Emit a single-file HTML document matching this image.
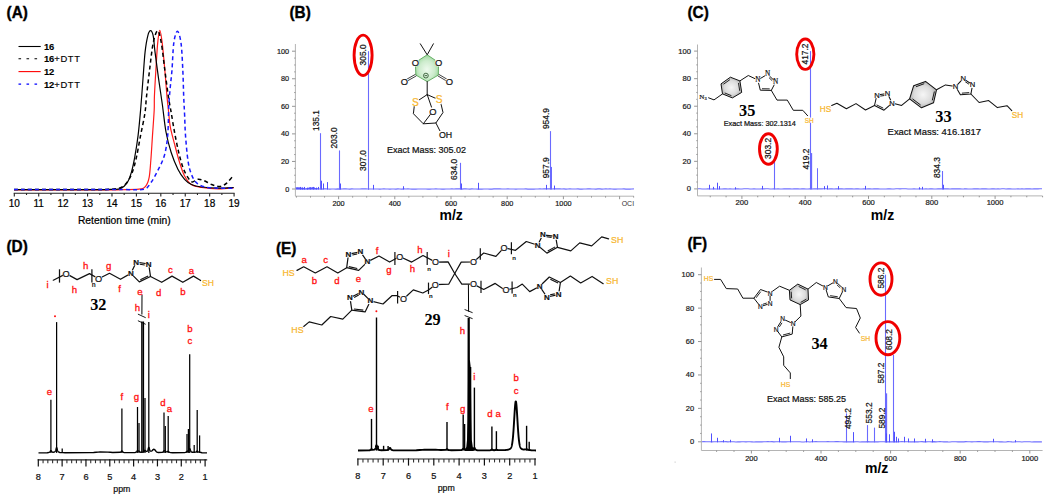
<!DOCTYPE html>
<html><head><meta charset="utf-8"><style>
html,body{margin:0;padding:0;background:#fff;}
svg{display:block;}
</style></head><body>
<svg width="1050" height="502" viewBox="0 0 1050 502">
<rect width="1050" height="502" fill="#fff"/>
<text transform="translate(6.6 17.65) scale(1 1.08)" x="0" y="0" font-size="15.4" font-weight="bold" fill="#000" stroke="#000" stroke-width="0.35" font-family='"Liberation Sans", sans-serif'>(A)</text>
<line x1="18.5" y1="46.5" x2="40.7" y2="46.5" stroke="#000" stroke-width="1.1"/>
<text x="43.9" y="50" font-size="9.4" font-family='"Liberation Sans", sans-serif' fill="#000" stroke="#000" stroke-width="0.15"><tspan font-weight="bold">16</tspan><tspan letter-spacing="0.65"></tspan></text>
<line x1="18.5" y1="58.8" x2="40.7" y2="58.8" stroke="#000" stroke-width="1.1" stroke-dasharray="2.6,5.4"/>
<text x="43.9" y="62.3" font-size="9.4" font-family='"Liberation Sans", sans-serif' fill="#000" stroke="#000" stroke-width="0.15"><tspan font-weight="bold">16</tspan><tspan letter-spacing="0.65">+DTT</tspan></text>
<line x1="18.5" y1="71.6" x2="40.7" y2="71.6" stroke="#ff0000" stroke-width="1.1"/>
<text x="43.9" y="75.1" font-size="9.4" font-family='"Liberation Sans", sans-serif' fill="#000" stroke="#000" stroke-width="0.15"><tspan font-weight="bold">12</tspan><tspan letter-spacing="0.65"></tspan></text>
<line x1="18.5" y1="84.1" x2="40.7" y2="84.1" stroke="#0000ff" stroke-width="1.1" stroke-dasharray="2.6,5.4"/>
<text x="43.9" y="87.6" font-size="9.4" font-family='"Liberation Sans", sans-serif' fill="#000" stroke="#000" stroke-width="0.15"><tspan font-weight="bold">12</tspan><tspan letter-spacing="0.65">+DTT</tspan></text>
<line x1="13.7" y1="193.2" x2="234.6" y2="193.2" stroke="#222" stroke-width="1.1"/>
<line x1="14.3" y1="193.2" x2="14.3" y2="196.6" stroke="#222" stroke-width="1.1"/>
<text x="14.3" y="207" font-size="10" font-weight="normal" fill="#000" text-anchor="middle" font-family='"Liberation Sans", sans-serif' stroke="#000" stroke-width="0.22">10</text>
<line x1="26.51" y1="193.2" x2="26.51" y2="195" stroke="#222" stroke-width="1.1"/>
<line x1="38.72" y1="193.2" x2="38.72" y2="196.6" stroke="#222" stroke-width="1.1"/>
<text x="38.72" y="207" font-size="10" font-weight="normal" fill="#000" text-anchor="middle" font-family='"Liberation Sans", sans-serif' stroke="#000" stroke-width="0.22">11</text>
<line x1="50.93" y1="193.2" x2="50.93" y2="195" stroke="#222" stroke-width="1.1"/>
<line x1="63.14" y1="193.2" x2="63.14" y2="196.6" stroke="#222" stroke-width="1.1"/>
<text x="63.14" y="207" font-size="10" font-weight="normal" fill="#000" text-anchor="middle" font-family='"Liberation Sans", sans-serif' stroke="#000" stroke-width="0.22">12</text>
<line x1="75.35" y1="193.2" x2="75.35" y2="195" stroke="#222" stroke-width="1.1"/>
<line x1="87.56" y1="193.2" x2="87.56" y2="196.6" stroke="#222" stroke-width="1.1"/>
<text x="87.56" y="207" font-size="10" font-weight="normal" fill="#000" text-anchor="middle" font-family='"Liberation Sans", sans-serif' stroke="#000" stroke-width="0.22">13</text>
<line x1="99.77" y1="193.2" x2="99.77" y2="195" stroke="#222" stroke-width="1.1"/>
<line x1="111.98" y1="193.2" x2="111.98" y2="196.6" stroke="#222" stroke-width="1.1"/>
<text x="111.98" y="207" font-size="10" font-weight="normal" fill="#000" text-anchor="middle" font-family='"Liberation Sans", sans-serif' stroke="#000" stroke-width="0.22">14</text>
<line x1="124.19" y1="193.2" x2="124.19" y2="195" stroke="#222" stroke-width="1.1"/>
<line x1="136.4" y1="193.2" x2="136.4" y2="196.6" stroke="#222" stroke-width="1.1"/>
<text x="136.4" y="207" font-size="10" font-weight="normal" fill="#000" text-anchor="middle" font-family='"Liberation Sans", sans-serif' stroke="#000" stroke-width="0.22">15</text>
<line x1="148.61" y1="193.2" x2="148.61" y2="195" stroke="#222" stroke-width="1.1"/>
<line x1="160.82" y1="193.2" x2="160.82" y2="196.6" stroke="#222" stroke-width="1.1"/>
<text x="160.82" y="207" font-size="10" font-weight="normal" fill="#000" text-anchor="middle" font-family='"Liberation Sans", sans-serif' stroke="#000" stroke-width="0.22">16</text>
<line x1="173.03" y1="193.2" x2="173.03" y2="195" stroke="#222" stroke-width="1.1"/>
<line x1="185.24" y1="193.2" x2="185.24" y2="196.6" stroke="#222" stroke-width="1.1"/>
<text x="185.24" y="207" font-size="10" font-weight="normal" fill="#000" text-anchor="middle" font-family='"Liberation Sans", sans-serif' stroke="#000" stroke-width="0.22">17</text>
<line x1="197.45" y1="193.2" x2="197.45" y2="195" stroke="#222" stroke-width="1.1"/>
<line x1="209.66" y1="193.2" x2="209.66" y2="196.6" stroke="#222" stroke-width="1.1"/>
<text x="209.66" y="207" font-size="10" font-weight="normal" fill="#000" text-anchor="middle" font-family='"Liberation Sans", sans-serif' stroke="#000" stroke-width="0.22">18</text>
<line x1="221.87" y1="193.2" x2="221.87" y2="195" stroke="#222" stroke-width="1.1"/>
<line x1="234.08" y1="193.2" x2="234.08" y2="196.6" stroke="#222" stroke-width="1.1"/>
<text x="234.08" y="207" font-size="10" font-weight="normal" fill="#000" text-anchor="middle" font-family='"Liberation Sans", sans-serif' stroke="#000" stroke-width="0.22">19</text>
<text x="124.3" y="224.3" font-size="10.3" font-weight="normal" fill="#000" text-anchor="middle" font-family='"Liberation Sans", sans-serif' stroke="#000" stroke-width="0.22">Retention time (min)</text>
<path d="M14,189.8 C28.33,189.8 82.85,189.8 100,189.8 C117.15,189.8 110.42,189.9 116.9,189.8 C123.38,189.7 134.1,189.8 138.9,189.2 C143.7,188.6 144,188.12 145.7,186.2 C147.4,184.28 148.25,181.93 149.1,177.7 C149.95,173.47 150.23,167.85 150.8,160.8 C151.37,153.75 151.93,143.87 152.5,135.4 C153.07,126.93 153.88,116.45 154.2,110 C154.52,103.55 154.12,103.4 154.4,96.7 C154.68,90 155.35,78.77 155.9,69.8 C156.45,60.83 157.05,49.47 157.7,42.9 C158.35,36.33 159.05,30.4 159.8,30.4 C160.55,30.4 161.37,36.33 162.2,42.9 C163.03,49.47 164,60.83 164.8,69.8 C165.6,78.77 166.4,90 167,96.7 C167.6,103.4 167.85,104.97 168.4,110 C168.95,115.03 169.28,121.25 170.3,126.9 C171.32,132.55 172.95,137.97 174.5,143.9 C176.05,149.83 177.92,157.15 179.6,162.5 C181.28,167.85 182.63,172.33 184.6,176 C186.57,179.67 188.57,182.58 191.4,184.5 C194.23,186.42 197.08,186.77 201.6,187.5 C206.12,188.23 213.15,188.83 218.5,188.9 C223.85,188.97 231.17,188.07 233.7,187.9" fill="none" stroke="#ff1a1a" stroke-width="1.2"/>
<path d="M14,189.6 C21.67,189.6 45.67,189.6 60,189.6 C74.33,189.6 91.33,189.65 100,189.6 C108.67,189.55 108.62,189.47 112,189.3 C115.38,189.13 117.78,189.68 120.3,188.6 C122.82,187.52 125.27,185.47 127.1,182.8 C128.93,180.13 130.03,176.83 131.3,172.6 C132.57,168.37 133.57,163.6 134.7,157.4 C135.83,151.2 137.12,143.3 138.1,135.4 C139.08,127.5 139.78,119.43 140.6,110 C141.42,100.57 142.25,88.48 143,78.8 C143.75,69.12 144.3,59.07 145.1,51.9 C145.9,44.73 146.9,39.33 147.8,35.8 C148.7,32.27 149.6,30.7 150.5,30.7 C151.4,30.7 152.45,32.27 153.2,35.8 C153.95,39.33 154.1,44.73 155,51.9 C155.9,59.07 157.37,69.95 158.6,78.8 C159.83,87.65 161.17,96.13 162.4,105 C163.63,113.87 164.55,124.12 166,132 C167.45,139.88 169.12,146.08 171.1,152.3 C173.08,158.52 175.65,164.78 177.9,169.3 C180.15,173.82 182.35,176.87 184.6,179.4 C186.85,181.93 188.57,183.23 191.4,184.5 C194.23,185.77 197.08,186.38 201.6,187 C206.12,187.62 213.15,188.12 218.5,188.2 C223.85,188.28 231.17,187.62 233.7,187.5" fill="none" stroke="#000" stroke-width="1.2"/>
<path d="M14,189.5 C21.67,189.5 45,189.52 60,189.5 C75,189.48 95,189.48 104,189.4 C113,189.32 111,189.4 114,189 C117,188.6 119.68,188.32 122,187 C124.32,185.68 126.2,183.5 127.9,181.1 C129.6,178.7 130.78,176.55 132.2,172.6 C133.62,168.65 135,163.6 136.4,157.4 C137.8,151.2 139.18,142.73 140.6,135.4 C142.02,128.07 143.92,119.85 144.9,113.4 C145.88,106.95 145.72,103.97 146.5,96.7 C147.28,89.43 148.48,78.77 149.6,69.8 C150.72,60.83 151.85,49.42 153.2,42.9 C154.55,36.38 156.35,30.7 157.7,30.7 C159.05,30.7 160.12,36.38 161.3,42.9 C162.48,49.42 163.62,60.83 164.8,69.8 C165.98,78.77 167.35,89.67 168.4,96.7 C169.45,103.73 170.08,106.12 171.1,112 C172.12,117.88 173.23,125.28 174.5,132 C175.77,138.72 177.28,146.37 178.7,152.3 C180.12,158.23 181.45,163.37 183,167.6 C184.55,171.83 186.45,175.32 188,177.7 C189.55,180.08 190.75,181.62 192.3,181.9 C193.85,182.18 195.47,179.67 197.3,179.4 C199.13,179.13 200.9,179.45 203.3,180.3 C205.7,181.15 208.88,183.47 211.7,184.5 C214.52,185.53 217.65,186.78 220.2,186.5 C222.75,186.22 224.87,184.55 227,182.8 C229.13,181.05 232,177.13 233,176" fill="none" stroke="#000" stroke-width="1.5" stroke-dasharray="4,3"/>
<path d="M14,189.4 C28.33,189.4 81.43,189.37 100,189.4 C118.57,189.43 118.07,189.63 125.4,189.6 C132.73,189.57 139.77,190.33 144,189.2 C148.23,188.07 148.53,185.85 150.8,182.8 C153.07,179.75 155.35,175.42 157.6,170.9 C159.85,166.38 162.62,161.62 164.3,155.7 C165.98,149.78 166.95,143.73 167.7,135.4 C168.45,127.07 168.38,113.63 168.8,105.7 C169.22,97.77 169.67,93.78 170.2,87.8 C170.73,81.82 171.4,77.28 172,69.8 C172.6,62.32 172.9,49.32 173.8,42.9 C174.7,36.48 176.2,31.3 177.4,31.3 C178.6,31.3 180.1,36.48 181,42.9 C181.9,49.32 182.35,60.83 182.8,69.8 C183.25,78.77 183.4,89.22 183.7,96.7 C184,104.18 184.3,108.25 184.6,114.7 C184.9,121.15 184.93,127.72 185.5,135.4 C186.07,143.08 187.02,154.32 188,160.8 C188.98,167.28 189.98,170.63 191.4,174.3 C192.82,177.97 194.23,180.68 196.5,182.8 C198.77,184.92 201.33,186.1 205,187 C208.67,187.9 213.72,188 218.5,188.2 C223.28,188.4 231.17,188.2 233.7,188.2" fill="none" stroke="#1a1aff" stroke-width="1.5" stroke-dasharray="4,3"/>
<text transform="translate(289.4 17.66) scale(1 1.08)" x="0" y="0" font-size="15.4" font-weight="bold" fill="#000" stroke="#000" stroke-width="0.35" font-family='"Liberation Sans", sans-serif'>(B)</text>
<line x1="295.4" y1="44" x2="295.4" y2="196.2" stroke="#b4b4b4" stroke-width="1"/>
<line x1="295.4" y1="196.2" x2="633.9" y2="196.2" stroke="#b4b4b4" stroke-width="1"/>
<line x1="292" y1="189" x2="295.4" y2="189" stroke="#8a8a8a" stroke-width="0.9"/>
<text x="289.2" y="191.5" font-size="7.3" font-weight="normal" fill="#222" text-anchor="end" font-family='"Liberation Sans", sans-serif' stroke="#222" stroke-width="0.22">0</text>
<line x1="294.2" y1="182.11" x2="295.4" y2="182.11" stroke="#8a8a8a" stroke-width="0.9"/>
<line x1="294.2" y1="175.22" x2="295.4" y2="175.22" stroke="#8a8a8a" stroke-width="0.9"/>
<line x1="294.2" y1="168.33" x2="295.4" y2="168.33" stroke="#8a8a8a" stroke-width="0.9"/>
<line x1="292" y1="161.44" x2="295.4" y2="161.44" stroke="#8a8a8a" stroke-width="0.9"/>
<text x="289.2" y="163.94" font-size="7.3" font-weight="normal" fill="#222" text-anchor="end" font-family='"Liberation Sans", sans-serif' stroke="#222" stroke-width="0.22">20</text>
<line x1="294.2" y1="154.55" x2="295.4" y2="154.55" stroke="#8a8a8a" stroke-width="0.9"/>
<line x1="294.2" y1="147.66" x2="295.4" y2="147.66" stroke="#8a8a8a" stroke-width="0.9"/>
<line x1="294.2" y1="140.77" x2="295.4" y2="140.77" stroke="#8a8a8a" stroke-width="0.9"/>
<line x1="292" y1="133.88" x2="295.4" y2="133.88" stroke="#8a8a8a" stroke-width="0.9"/>
<text x="289.2" y="136.38" font-size="7.3" font-weight="normal" fill="#222" text-anchor="end" font-family='"Liberation Sans", sans-serif' stroke="#222" stroke-width="0.22">40</text>
<line x1="294.2" y1="126.99" x2="295.4" y2="126.99" stroke="#8a8a8a" stroke-width="0.9"/>
<line x1="294.2" y1="120.1" x2="295.4" y2="120.1" stroke="#8a8a8a" stroke-width="0.9"/>
<line x1="294.2" y1="113.21" x2="295.4" y2="113.21" stroke="#8a8a8a" stroke-width="0.9"/>
<line x1="292" y1="106.32" x2="295.4" y2="106.32" stroke="#8a8a8a" stroke-width="0.9"/>
<text x="289.2" y="108.82" font-size="7.3" font-weight="normal" fill="#222" text-anchor="end" font-family='"Liberation Sans", sans-serif' stroke="#222" stroke-width="0.22">60</text>
<line x1="294.2" y1="99.43" x2="295.4" y2="99.43" stroke="#8a8a8a" stroke-width="0.9"/>
<line x1="294.2" y1="92.54" x2="295.4" y2="92.54" stroke="#8a8a8a" stroke-width="0.9"/>
<line x1="294.2" y1="85.65" x2="295.4" y2="85.65" stroke="#8a8a8a" stroke-width="0.9"/>
<line x1="292" y1="78.76" x2="295.4" y2="78.76" stroke="#8a8a8a" stroke-width="0.9"/>
<text x="289.2" y="81.26" font-size="7.3" font-weight="normal" fill="#222" text-anchor="end" font-family='"Liberation Sans", sans-serif' stroke="#222" stroke-width="0.22">80</text>
<line x1="294.2" y1="71.87" x2="295.4" y2="71.87" stroke="#8a8a8a" stroke-width="0.9"/>
<line x1="294.2" y1="64.98" x2="295.4" y2="64.98" stroke="#8a8a8a" stroke-width="0.9"/>
<line x1="294.2" y1="58.09" x2="295.4" y2="58.09" stroke="#8a8a8a" stroke-width="0.9"/>
<line x1="292" y1="51.2" x2="295.4" y2="51.2" stroke="#8a8a8a" stroke-width="0.9"/>
<text x="289.2" y="53.7" font-size="7.3" font-weight="normal" fill="#222" text-anchor="end" font-family='"Liberation Sans", sans-serif' stroke="#222" stroke-width="0.22">100</text>
<line x1="296.45" y1="196.2" x2="296.45" y2="197.6" stroke="#8a8a8a" stroke-width="0.9"/>
<line x1="310.5" y1="196.2" x2="310.5" y2="197.6" stroke="#8a8a8a" stroke-width="0.9"/>
<line x1="324.55" y1="196.2" x2="324.55" y2="197.6" stroke="#8a8a8a" stroke-width="0.9"/>
<line x1="338.6" y1="196.2" x2="338.6" y2="199.2" stroke="#8a8a8a" stroke-width="0.9"/>
<text x="338.6" y="205.6" font-size="7.3" font-weight="normal" fill="#222" text-anchor="middle" font-family='"Liberation Sans", sans-serif' stroke="#222" stroke-width="0.22">200</text>
<line x1="352.65" y1="196.2" x2="352.65" y2="197.6" stroke="#8a8a8a" stroke-width="0.9"/>
<line x1="366.7" y1="196.2" x2="366.7" y2="197.6" stroke="#8a8a8a" stroke-width="0.9"/>
<line x1="380.75" y1="196.2" x2="380.75" y2="197.6" stroke="#8a8a8a" stroke-width="0.9"/>
<line x1="394.8" y1="196.2" x2="394.8" y2="199.2" stroke="#8a8a8a" stroke-width="0.9"/>
<text x="394.8" y="205.6" font-size="7.3" font-weight="normal" fill="#222" text-anchor="middle" font-family='"Liberation Sans", sans-serif' stroke="#222" stroke-width="0.22">400</text>
<line x1="408.85" y1="196.2" x2="408.85" y2="197.6" stroke="#8a8a8a" stroke-width="0.9"/>
<line x1="422.9" y1="196.2" x2="422.9" y2="197.6" stroke="#8a8a8a" stroke-width="0.9"/>
<line x1="436.95" y1="196.2" x2="436.95" y2="197.6" stroke="#8a8a8a" stroke-width="0.9"/>
<line x1="451" y1="196.2" x2="451" y2="199.2" stroke="#8a8a8a" stroke-width="0.9"/>
<text x="451" y="205.6" font-size="7.3" font-weight="normal" fill="#222" text-anchor="middle" font-family='"Liberation Sans", sans-serif' stroke="#222" stroke-width="0.22">600</text>
<line x1="465.05" y1="196.2" x2="465.05" y2="197.6" stroke="#8a8a8a" stroke-width="0.9"/>
<line x1="479.1" y1="196.2" x2="479.1" y2="197.6" stroke="#8a8a8a" stroke-width="0.9"/>
<line x1="493.15" y1="196.2" x2="493.15" y2="197.6" stroke="#8a8a8a" stroke-width="0.9"/>
<line x1="507.2" y1="196.2" x2="507.2" y2="199.2" stroke="#8a8a8a" stroke-width="0.9"/>
<text x="507.2" y="205.6" font-size="7.3" font-weight="normal" fill="#222" text-anchor="middle" font-family='"Liberation Sans", sans-serif' stroke="#222" stroke-width="0.22">800</text>
<line x1="521.25" y1="196.2" x2="521.25" y2="197.6" stroke="#8a8a8a" stroke-width="0.9"/>
<line x1="535.3" y1="196.2" x2="535.3" y2="197.6" stroke="#8a8a8a" stroke-width="0.9"/>
<line x1="549.35" y1="196.2" x2="549.35" y2="197.6" stroke="#8a8a8a" stroke-width="0.9"/>
<line x1="563.4" y1="196.2" x2="563.4" y2="199.2" stroke="#8a8a8a" stroke-width="0.9"/>
<text x="563.4" y="205.6" font-size="7.3" font-weight="normal" fill="#222" text-anchor="middle" font-family='"Liberation Sans", sans-serif' stroke="#222" stroke-width="0.22">1000</text>
<line x1="577.45" y1="196.2" x2="577.45" y2="197.6" stroke="#8a8a8a" stroke-width="0.9"/>
<line x1="591.5" y1="196.2" x2="591.5" y2="197.6" stroke="#8a8a8a" stroke-width="0.9"/>
<line x1="605.55" y1="196.2" x2="605.55" y2="197.6" stroke="#8a8a8a" stroke-width="0.9"/>
<line x1="619.6" y1="196.2" x2="619.6" y2="199.2" stroke="#8a8a8a" stroke-width="0.9"/>
<line x1="633.65" y1="196.2" x2="633.65" y2="197.6" stroke="#8a8a8a" stroke-width="0.9"/>
<text x="451.2" y="219.9" font-size="14" font-weight="bold" fill="#000" text-anchor="middle" font-family='"Liberation Sans", sans-serif'>m/z</text>
<text x="627.9" y="205.6" font-size="7" font-weight="normal" fill="#333" text-anchor="middle" font-family='"Liberation Sans", sans-serif'>OCI</text>
<polyline points="295.9,188.95 297.9,188.9 299.9,189.05 301.9,188.87 303.9,189.01 305.9,188.96 307.9,188.87 309.9,189 311.9,188.86 313.9,188.98 315.9,188.87 317.9,188.88 319.9,188.98 321.9,189.1 323.9,188.89 325.9,188.92 327.9,189.04 329.9,189.13 331.9,189.02 333.9,188.97 335.9,189.14 337.9,188.86 339.9,189.11 341.9,188.94 343.9,188.89 345.9,188.89 347.9,188.94 349.9,189.09 351.9,188.9 353.9,189.02 355.9,189.04 357.9,188.96 359.9,189.01 361.9,188.87 363.9,188.87 365.9,188.91 367.9,189.05 369.9,188.98 371.9,188.94 373.9,189.03 375.9,188.99 377.9,188.94 379.9,189.09 381.9,189.06 383.9,188.92 385.9,189.02 387.9,189.01 389.9,189.11 391.9,189.07 393.9,188.94 395.9,189.14 397.9,188.89 399.9,188.98 401.9,189.08 403.9,188.9 405.9,189 407.9,188.86 409.9,189.05 411.9,189.08 413.9,189.02 415.9,189.11 417.9,188.94 419.9,189.06 421.9,189.03 423.9,189.02 425.9,188.99 427.9,189.1 429.9,189.13 431.9,188.99 433.9,189.05 435.9,188.87 437.9,189.06 439.9,189.04 441.9,189.15 443.9,189.1 445.9,188.94 447.9,188.97 449.9,189.05 451.9,188.86 453.9,188.99 455.9,188.9 457.9,188.89 459.9,188.87 461.9,189.08 463.9,188.89 465.9,188.92 467.9,188.97 469.9,189.11 471.9,188.87 473.9,188.98 475.9,189.01 477.9,189.12 479.9,189.1 481.9,189.11 483.9,188.93 485.9,188.97 487.9,188.96 489.9,189.12 491.9,189.14 493.9,188.9 495.9,188.9 497.9,188.92 499.9,188.92 501.9,189 503.9,189.03 505.9,188.93 507.9,188.85 509.9,188.98 511.9,188.96 513.9,189.02 515.9,189.14 517.9,189.06 519.9,189 521.9,189.04 523.9,189.05 525.9,188.87 527.9,189.12 529.9,189.08 531.9,189.11 533.9,189.09 535.9,188.97 537.9,188.97 539.9,188.88 541.9,189.04 543.9,188.87 545.9,188.87 547.9,188.91 549.9,188.9 551.9,188.95 553.9,188.87 555.9,188.85 557.9,188.9 559.9,188.88 561.9,188.96 563.9,188.86 565.9,189.11 567.9,189.03 569.9,188.89 571.9,188.93 573.9,188.95 575.9,188.96 577.9,188.89 579.9,189.1 581.9,189.15 583.9,188.99 585.9,189 587.9,188.88 589.9,188.88 591.9,188.95 593.9,188.93 595.9,189.1 597.9,188.9 599.9,188.86 601.9,189.14 603.9,189.01 605.9,188.89 607.9,189.01 609.9,188.86 611.9,189.01 613.9,189.14 615.9,189.11 617.9,189.06 619.9,188.93 621.9,188.96 623.9,188.9 625.9,189.08 627.9,189.01 629.9,189.08 631.9,188.95 633.9,188.92" fill="none" stroke="#7070ff" stroke-width="1.1" stroke-linejoin="round"/>
<line x1="300.5" y1="189.5" x2="300.5" y2="186.93" stroke="#5050ff" stroke-width="1"/>
<line x1="302.5" y1="189.5" x2="302.5" y2="187.35" stroke="#5050ff" stroke-width="1"/>
<line x1="304.5" y1="189.5" x2="304.5" y2="186.93" stroke="#5050ff" stroke-width="1"/>
<line x1="307.5" y1="189.5" x2="307.5" y2="187.62" stroke="#5050ff" stroke-width="1"/>
<line x1="310.5" y1="189.5" x2="310.5" y2="187.35" stroke="#5050ff" stroke-width="1"/>
<line x1="313.5" y1="189.5" x2="313.5" y2="186.93" stroke="#5050ff" stroke-width="1"/>
<line x1="316.5" y1="189.5" x2="316.5" y2="187.62" stroke="#5050ff" stroke-width="1"/>
<line x1="318.5" y1="189.5" x2="318.5" y2="186.93" stroke="#5050ff" stroke-width="1"/>
<line x1="320.5" y1="189.5" x2="320.5" y2="133.19" stroke="#6a6aff" stroke-width="1.1"/>
<line x1="321.5" y1="189.5" x2="321.5" y2="180.73" stroke="#5050ff" stroke-width="1"/>
<line x1="323.5" y1="189.5" x2="323.5" y2="183.49" stroke="#5050ff" stroke-width="1"/>
<line x1="327.5" y1="189.5" x2="327.5" y2="182.11" stroke="#5050ff" stroke-width="1"/>
<line x1="339.5" y1="189.5" x2="339.5" y2="150.42" stroke="#6a6aff" stroke-width="1.1"/>
<line x1="340.5" y1="189.5" x2="340.5" y2="183.49" stroke="#5050ff" stroke-width="1"/>
<line x1="368.5" y1="189.5" x2="368.5" y2="51.2" stroke="#6a6aff" stroke-width="1.1"/>
<line x1="368.5" y1="189.5" x2="368.5" y2="171.09" stroke="#6a6aff" stroke-width="1"/>
<line x1="373.5" y1="189.5" x2="373.5" y2="184.87" stroke="#5050ff" stroke-width="1"/>
<line x1="403.5" y1="189.5" x2="403.5" y2="186.24" stroke="#5050ff" stroke-width="1"/>
<line x1="460.5" y1="189.5" x2="460.5" y2="162.82" stroke="#6a6aff" stroke-width="1.1"/>
<line x1="461.5" y1="189.5" x2="461.5" y2="183.49" stroke="#5050ff" stroke-width="1"/>
<line x1="478.5" y1="189.5" x2="478.5" y2="182.8" stroke="#5050ff" stroke-width="1"/>
<line x1="546.5" y1="189.5" x2="546.5" y2="184.87" stroke="#5050ff" stroke-width="1"/>
<line x1="550.5" y1="189.5" x2="550.5" y2="131.12" stroke="#6a6aff" stroke-width="1.1"/>
<line x1="551.5" y1="189.5" x2="551.5" y2="166.95" stroke="#6a6aff" stroke-width="1"/>
<line x1="554.5" y1="189.5" x2="554.5" y2="185.56" stroke="#5050ff" stroke-width="1"/>
<polyline points="296,187.48 296.5,189.2 297,187.22 297.5,189.2 298,187.42 298.5,189.2 299,187.49 299.5,189.2 300,187.47 300.5,189.2 301,187.59 301.5,189.2 302,188.36 302.5,189.2 303,187.92 303.5,189.2 304,188.17 304.5,189.2 305,188.66 305.5,189.2 306,188.66 306.5,189.2 307,188.28 307.5,189.2 308,188.31 308.5,189.2 309,187.66 309.5,189.2 310,187.27 310.5,189.2 311,188.03 311.5,189.2 312,187.29 312.5,189.2 313,187.22 313.5,189.2 314,187.27 314.5,189.2 315,188.15 315.5,189.2 316,188.37 316.5,189.2 317,188.36 317.5,189.2" fill="none" stroke="#5050ff" stroke-width="0.9" stroke-linejoin="round"/>
<ellipse cx="363.1" cy="55.3" rx="9" ry="20.2" fill="none" stroke="#f00000" stroke-width="2.9"/>
<text x="362.7" y="54.9" font-size="8.4" font-weight="normal" fill="#111" text-anchor="middle" font-family='"Liberation Sans", sans-serif' transform="rotate(-90 362.7 54.9)" dominant-baseline="central" stroke="#111" stroke-width="0.22">305.0</text>
<text x="315.6" y="120.5" font-size="8.4" font-weight="normal" fill="#111" text-anchor="middle" font-family='"Liberation Sans", sans-serif' transform="rotate(-90 315.6 120.5)" dominant-baseline="central" stroke="#111" stroke-width="0.22">135.1</text>
<text x="334.4" y="137.9" font-size="8.4" font-weight="normal" fill="#111" text-anchor="middle" font-family='"Liberation Sans", sans-serif' transform="rotate(-90 334.4 137.9)" dominant-baseline="central" stroke="#111" stroke-width="0.22">203.0</text>
<text x="362.8" y="160.5" font-size="8.4" font-weight="normal" fill="#111" text-anchor="middle" font-family='"Liberation Sans", sans-serif' transform="rotate(-90 362.8 160.5)" dominant-baseline="central" stroke="#111" stroke-width="0.22">307.0</text>
<text x="454.4" y="169.4" font-size="8.4" font-weight="normal" fill="#111" text-anchor="middle" font-family='"Liberation Sans", sans-serif' transform="rotate(-90 454.4 169.4)" dominant-baseline="central" stroke="#111" stroke-width="0.22">634.0</text>
<text x="545.7" y="118.6" font-size="8.4" font-weight="normal" fill="#111" text-anchor="middle" font-family='"Liberation Sans", sans-serif' transform="rotate(-90 545.7 118.6)" dominant-baseline="central" stroke="#111" stroke-width="0.22">954.9</text>
<text x="545.7" y="167.8" font-size="8.4" font-weight="normal" fill="#111" text-anchor="middle" font-family='"Liberation Sans", sans-serif' transform="rotate(-90 545.7 167.8)" dominant-baseline="central" stroke="#111" stroke-width="0.22">957.9</text>
<text x="426.5" y="152.8" font-size="9" font-weight="normal" fill="#111" text-anchor="middle" font-family='"Liberation Sans", sans-serif' stroke="#111" stroke-width="0.22">Exact Mass: 305.02</text>
<text transform="translate(687.5 17.7) scale(1 1.08)" x="0" y="0" font-size="15.4" font-weight="bold" fill="#000" stroke="#000" stroke-width="0.35" font-family='"Liberation Sans", sans-serif'>(C)</text>
<line x1="697.5" y1="44.5" x2="697.5" y2="195.9" stroke="#b4b4b4" stroke-width="1"/>
<line x1="697.5" y1="195.9" x2="1042.4" y2="195.9" stroke="#b4b4b4" stroke-width="1"/>
<line x1="694.1" y1="188.9" x2="697.5" y2="188.9" stroke="#8a8a8a" stroke-width="0.9"/>
<text x="691" y="191.4" font-size="7.6" font-weight="normal" fill="#222" text-anchor="end" font-family='"Liberation Sans", sans-serif' stroke="#222" stroke-width="0.22">0</text>
<line x1="696.3" y1="182.01" x2="697.5" y2="182.01" stroke="#8a8a8a" stroke-width="0.9"/>
<line x1="696.3" y1="175.12" x2="697.5" y2="175.12" stroke="#8a8a8a" stroke-width="0.9"/>
<line x1="696.3" y1="168.23" x2="697.5" y2="168.23" stroke="#8a8a8a" stroke-width="0.9"/>
<line x1="694.1" y1="161.34" x2="697.5" y2="161.34" stroke="#8a8a8a" stroke-width="0.9"/>
<text x="691" y="163.84" font-size="7.6" font-weight="normal" fill="#222" text-anchor="end" font-family='"Liberation Sans", sans-serif' stroke="#222" stroke-width="0.22">20</text>
<line x1="696.3" y1="154.45" x2="697.5" y2="154.45" stroke="#8a8a8a" stroke-width="0.9"/>
<line x1="696.3" y1="147.56" x2="697.5" y2="147.56" stroke="#8a8a8a" stroke-width="0.9"/>
<line x1="696.3" y1="140.67" x2="697.5" y2="140.67" stroke="#8a8a8a" stroke-width="0.9"/>
<line x1="694.1" y1="133.78" x2="697.5" y2="133.78" stroke="#8a8a8a" stroke-width="0.9"/>
<text x="691" y="136.28" font-size="7.6" font-weight="normal" fill="#222" text-anchor="end" font-family='"Liberation Sans", sans-serif' stroke="#222" stroke-width="0.22">40</text>
<line x1="696.3" y1="126.89" x2="697.5" y2="126.89" stroke="#8a8a8a" stroke-width="0.9"/>
<line x1="696.3" y1="120" x2="697.5" y2="120" stroke="#8a8a8a" stroke-width="0.9"/>
<line x1="696.3" y1="113.11" x2="697.5" y2="113.11" stroke="#8a8a8a" stroke-width="0.9"/>
<line x1="694.1" y1="106.22" x2="697.5" y2="106.22" stroke="#8a8a8a" stroke-width="0.9"/>
<text x="691" y="108.72" font-size="7.6" font-weight="normal" fill="#222" text-anchor="end" font-family='"Liberation Sans", sans-serif' stroke="#222" stroke-width="0.22">60</text>
<line x1="696.3" y1="99.33" x2="697.5" y2="99.33" stroke="#8a8a8a" stroke-width="0.9"/>
<line x1="696.3" y1="92.44" x2="697.5" y2="92.44" stroke="#8a8a8a" stroke-width="0.9"/>
<line x1="696.3" y1="85.55" x2="697.5" y2="85.55" stroke="#8a8a8a" stroke-width="0.9"/>
<line x1="694.1" y1="78.66" x2="697.5" y2="78.66" stroke="#8a8a8a" stroke-width="0.9"/>
<text x="691" y="81.16" font-size="7.6" font-weight="normal" fill="#222" text-anchor="end" font-family='"Liberation Sans", sans-serif' stroke="#222" stroke-width="0.22">80</text>
<line x1="696.3" y1="71.77" x2="697.5" y2="71.77" stroke="#8a8a8a" stroke-width="0.9"/>
<line x1="696.3" y1="64.88" x2="697.5" y2="64.88" stroke="#8a8a8a" stroke-width="0.9"/>
<line x1="696.3" y1="57.99" x2="697.5" y2="57.99" stroke="#8a8a8a" stroke-width="0.9"/>
<line x1="694.1" y1="51.1" x2="697.5" y2="51.1" stroke="#8a8a8a" stroke-width="0.9"/>
<text x="691" y="53.6" font-size="7.6" font-weight="normal" fill="#222" text-anchor="end" font-family='"Liberation Sans", sans-serif' stroke="#222" stroke-width="0.22">100</text>
<line x1="710.25" y1="195.9" x2="710.25" y2="197.3" stroke="#8a8a8a" stroke-width="0.9"/>
<line x1="726.08" y1="195.9" x2="726.08" y2="197.3" stroke="#8a8a8a" stroke-width="0.9"/>
<line x1="741.9" y1="195.9" x2="741.9" y2="198.9" stroke="#8a8a8a" stroke-width="0.9"/>
<text x="741.9" y="205.4" font-size="7.6" font-weight="normal" fill="#222" text-anchor="middle" font-family='"Liberation Sans", sans-serif' stroke="#222" stroke-width="0.22">200</text>
<line x1="757.73" y1="195.9" x2="757.73" y2="197.3" stroke="#8a8a8a" stroke-width="0.9"/>
<line x1="773.55" y1="195.9" x2="773.55" y2="197.3" stroke="#8a8a8a" stroke-width="0.9"/>
<line x1="789.38" y1="195.9" x2="789.38" y2="197.3" stroke="#8a8a8a" stroke-width="0.9"/>
<line x1="805.2" y1="195.9" x2="805.2" y2="198.9" stroke="#8a8a8a" stroke-width="0.9"/>
<text x="805.2" y="205.4" font-size="7.6" font-weight="normal" fill="#222" text-anchor="middle" font-family='"Liberation Sans", sans-serif' stroke="#222" stroke-width="0.22">400</text>
<line x1="821.03" y1="195.9" x2="821.03" y2="197.3" stroke="#8a8a8a" stroke-width="0.9"/>
<line x1="836.85" y1="195.9" x2="836.85" y2="197.3" stroke="#8a8a8a" stroke-width="0.9"/>
<line x1="852.67" y1="195.9" x2="852.67" y2="197.3" stroke="#8a8a8a" stroke-width="0.9"/>
<line x1="868.5" y1="195.9" x2="868.5" y2="198.9" stroke="#8a8a8a" stroke-width="0.9"/>
<text x="868.5" y="205.4" font-size="7.6" font-weight="normal" fill="#222" text-anchor="middle" font-family='"Liberation Sans", sans-serif' stroke="#222" stroke-width="0.22">600</text>
<line x1="884.33" y1="195.9" x2="884.33" y2="197.3" stroke="#8a8a8a" stroke-width="0.9"/>
<line x1="900.15" y1="195.9" x2="900.15" y2="197.3" stroke="#8a8a8a" stroke-width="0.9"/>
<line x1="915.98" y1="195.9" x2="915.98" y2="197.3" stroke="#8a8a8a" stroke-width="0.9"/>
<line x1="931.8" y1="195.9" x2="931.8" y2="198.9" stroke="#8a8a8a" stroke-width="0.9"/>
<text x="931.8" y="205.4" font-size="7.6" font-weight="normal" fill="#222" text-anchor="middle" font-family='"Liberation Sans", sans-serif' stroke="#222" stroke-width="0.22">800</text>
<line x1="947.62" y1="195.9" x2="947.62" y2="197.3" stroke="#8a8a8a" stroke-width="0.9"/>
<line x1="963.45" y1="195.9" x2="963.45" y2="197.3" stroke="#8a8a8a" stroke-width="0.9"/>
<line x1="979.28" y1="195.9" x2="979.28" y2="197.3" stroke="#8a8a8a" stroke-width="0.9"/>
<line x1="995.1" y1="195.9" x2="995.1" y2="198.9" stroke="#8a8a8a" stroke-width="0.9"/>
<text x="995.1" y="205.4" font-size="7.6" font-weight="normal" fill="#222" text-anchor="middle" font-family='"Liberation Sans", sans-serif' stroke="#222" stroke-width="0.22">1000</text>
<line x1="1010.92" y1="195.9" x2="1010.92" y2="197.3" stroke="#8a8a8a" stroke-width="0.9"/>
<line x1="1026.75" y1="195.9" x2="1026.75" y2="197.3" stroke="#8a8a8a" stroke-width="0.9"/>
<line x1="1042.58" y1="195.9" x2="1042.58" y2="197.3" stroke="#8a8a8a" stroke-width="0.9"/>
<text x="882.5" y="219.6" font-size="14" font-weight="bold" fill="#000" text-anchor="middle" font-family='"Liberation Sans", sans-serif'>m/z</text>
<polyline points="698,188.81 700,188.81 702,188.94 704,189.02 706,189 708,188.89 710,188.95 712,188.99 714,188.78 716,188.95 718,189.02 720,188.98 722,188.98 724,188.89 726,188.8 728,188.99 730,188.85 732,188.99 734,189.04 736,188.87 738,188.87 740,189.03 742,188.97 744,188.8 746,188.79 748,188.8 750,189.02 752,188.99 754,188.79 756,189 758,189.04 760,188.95 762,188.86 764,188.91 766,188.79 768,188.75 770,189.04 772,188.94 774,188.91 776,189.03 778,188.88 780,189.01 782,189 784,188.81 786,188.83 788,188.84 790,188.82 792,188.93 794,188.83 796,188.88 798,188.79 800,189.02 802,188.86 804,188.89 806,188.93 808,189.02 810,188.88 812,189.03 814,188.9 816,188.91 818,188.91 820,188.76 822,188.88 824,188.8 826,188.75 828,188.99 830,188.8 832,188.89 834,188.97 836,188.92 838,188.85 840,188.91 842,188.92 844,188.99 846,188.78 848,188.92 850,188.82 852,188.83 854,188.98 856,188.9 858,188.92 860,188.98 862,189.02 864,188.88 866,188.93 868,188.9 870,188.9 872,188.96 874,188.89 876,188.91 878,188.89 880,189.03 882,188.96 884,189.01 886,189.03 888,188.83 890,188.92 892,189.03 894,189 896,188.79 898,188.79 900,188.88 902,188.77 904,188.82 906,188.77 908,188.95 910,188.99 912,189.02 914,188.8 916,188.96 918,188.95 920,188.79 922,189.01 924,189.04 926,188.82 928,189.04 930,188.87 932,188.9 934,189.05 936,189 938,188.8 940,188.88 942,188.9 944,188.85 946,188.81 948,188.85 950,188.97 952,188.76 954,188.92 956,188.88 958,188.76 960,188.85 962,188.94 964,188.9 966,188.77 968,189.05 970,188.99 972,189.04 974,188.78 976,188.83 978,188.76 980,188.98 982,188.83 984,188.79 986,188.88 988,189.02 990,189 992,188.83 994,188.79 996,189.03 998,188.92 1000,188.96 1002,188.78 1004,188.77 1006,188.96 1008,188.88 1010,188.77 1012,189.03 1014,188.94 1016,188.99 1018,188.78 1020,189.01 1022,188.77 1024,189.01 1026,188.89 1028,188.85 1030,188.92 1032,189.03 1034,188.83 1036,188.79 1038,188.91 1040,188.82 1042,188.78" fill="none" stroke="#7070ff" stroke-width="1.1" stroke-linejoin="round"/>
<line x1="709.5" y1="189.4" x2="709.5" y2="184.77" stroke="#5050ff" stroke-width="1"/>
<line x1="713.5" y1="189.4" x2="713.5" y2="186.83" stroke="#5050ff" stroke-width="1"/>
<line x1="717.5" y1="189.4" x2="717.5" y2="182.7" stroke="#5050ff" stroke-width="1"/>
<line x1="719.5" y1="189.4" x2="719.5" y2="186.14" stroke="#5050ff" stroke-width="1"/>
<line x1="735.5" y1="189.4" x2="735.5" y2="187.25" stroke="#5050ff" stroke-width="1"/>
<line x1="762.5" y1="189.4" x2="762.5" y2="185.87" stroke="#5050ff" stroke-width="1"/>
<line x1="774.5" y1="189.4" x2="774.5" y2="162.03" stroke="#6a6aff" stroke-width="1.1"/>
<line x1="810.5" y1="189.4" x2="810.5" y2="51.1" stroke="#6a6aff" stroke-width="1.1"/>
<line x1="811.5" y1="189.4" x2="811.5" y2="153.07" stroke="#6a6aff" stroke-width="1.3"/>
<line x1="817.5" y1="189.4" x2="817.5" y2="168.23" stroke="#6a6aff" stroke-width="1"/>
<line x1="824.5" y1="189.4" x2="824.5" y2="186.14" stroke="#5050ff" stroke-width="1"/>
<line x1="827.5" y1="189.4" x2="827.5" y2="185.46" stroke="#5050ff" stroke-width="1"/>
<line x1="838.5" y1="189.4" x2="838.5" y2="186.14" stroke="#5050ff" stroke-width="1"/>
<line x1="865.5" y1="189.4" x2="865.5" y2="185.87" stroke="#5050ff" stroke-width="1"/>
<line x1="919.5" y1="189.4" x2="919.5" y2="187.25" stroke="#5050ff" stroke-width="1"/>
<line x1="922.5" y1="189.4" x2="922.5" y2="186.83" stroke="#5050ff" stroke-width="1"/>
<line x1="942.5" y1="189.4" x2="942.5" y2="170.99" stroke="#6a6aff" stroke-width="1.1"/>
<line x1="943.5" y1="189.4" x2="943.5" y2="184.77" stroke="#5050ff" stroke-width="1"/>
<ellipse cx="805.3" cy="54.2" rx="8.6" ry="15.2" fill="none" stroke="#f00000" stroke-width="2.9"/>
<text x="805.4" y="54" font-size="8.4" font-weight="normal" fill="#111" text-anchor="middle" font-family='"Liberation Sans", sans-serif' transform="rotate(-90 805.4 54)" dominant-baseline="central" stroke="#111" stroke-width="0.22">417.2</text>
<ellipse cx="768.4" cy="149" rx="8.9" ry="15.3" fill="none" stroke="#f00000" stroke-width="2.9"/>
<text x="768.4" y="148.4" font-size="8.4" font-weight="normal" fill="#111" text-anchor="middle" font-family='"Liberation Sans", sans-serif' transform="rotate(-90 768.4 148.4)" dominant-baseline="central" stroke="#111" stroke-width="0.22">303.2</text>
<text x="806.2" y="159.1" font-size="8.4" font-weight="normal" fill="#111" text-anchor="middle" font-family='"Liberation Sans", sans-serif' transform="rotate(-90 806.2 159.1)" dominant-baseline="central" stroke="#111" stroke-width="0.22">419.2</text>
<text x="937.4" y="167.6" font-size="8.4" font-weight="normal" fill="#111" text-anchor="middle" font-family='"Liberation Sans", sans-serif' transform="rotate(-90 937.4 167.6)" dominant-baseline="central" stroke="#111" stroke-width="0.22">834.3</text>
<text transform="translate(687.5 248.7) scale(1 1.08)" x="0" y="0" font-size="15.4" font-weight="bold" fill="#000" stroke="#000" stroke-width="0.35" font-family='"Liberation Sans", sans-serif'>(F)</text>
<line x1="701.4" y1="267.5" x2="701.4" y2="450.5" stroke="#b4b4b4" stroke-width="1"/>
<line x1="701.4" y1="450.5" x2="1042.6" y2="450.5" stroke="#b4b4b4" stroke-width="1"/>
<line x1="698" y1="441.8" x2="701.4" y2="441.8" stroke="#8a8a8a" stroke-width="0.9"/>
<text x="694.1" y="444.3" font-size="7.5" font-weight="normal" fill="#222" text-anchor="end" font-family='"Liberation Sans", sans-serif' stroke="#222" stroke-width="0.22">0</text>
<line x1="700.2" y1="433.44" x2="701.4" y2="433.44" stroke="#8a8a8a" stroke-width="0.9"/>
<line x1="700.2" y1="425.09" x2="701.4" y2="425.09" stroke="#8a8a8a" stroke-width="0.9"/>
<line x1="700.2" y1="416.74" x2="701.4" y2="416.74" stroke="#8a8a8a" stroke-width="0.9"/>
<line x1="698" y1="408.38" x2="701.4" y2="408.38" stroke="#8a8a8a" stroke-width="0.9"/>
<text x="694.1" y="410.88" font-size="7.5" font-weight="normal" fill="#222" text-anchor="end" font-family='"Liberation Sans", sans-serif' stroke="#222" stroke-width="0.22">20</text>
<line x1="700.2" y1="400.03" x2="701.4" y2="400.03" stroke="#8a8a8a" stroke-width="0.9"/>
<line x1="700.2" y1="391.67" x2="701.4" y2="391.67" stroke="#8a8a8a" stroke-width="0.9"/>
<line x1="700.2" y1="383.31" x2="701.4" y2="383.31" stroke="#8a8a8a" stroke-width="0.9"/>
<line x1="698" y1="374.96" x2="701.4" y2="374.96" stroke="#8a8a8a" stroke-width="0.9"/>
<text x="694.1" y="377.46" font-size="7.5" font-weight="normal" fill="#222" text-anchor="end" font-family='"Liberation Sans", sans-serif' stroke="#222" stroke-width="0.22">40</text>
<line x1="700.2" y1="366.61" x2="701.4" y2="366.61" stroke="#8a8a8a" stroke-width="0.9"/>
<line x1="700.2" y1="358.25" x2="701.4" y2="358.25" stroke="#8a8a8a" stroke-width="0.9"/>
<line x1="700.2" y1="349.89" x2="701.4" y2="349.89" stroke="#8a8a8a" stroke-width="0.9"/>
<line x1="698" y1="341.54" x2="701.4" y2="341.54" stroke="#8a8a8a" stroke-width="0.9"/>
<text x="694.1" y="344.04" font-size="7.5" font-weight="normal" fill="#222" text-anchor="end" font-family='"Liberation Sans", sans-serif' stroke="#222" stroke-width="0.22">60</text>
<line x1="700.2" y1="333.19" x2="701.4" y2="333.19" stroke="#8a8a8a" stroke-width="0.9"/>
<line x1="700.2" y1="324.83" x2="701.4" y2="324.83" stroke="#8a8a8a" stroke-width="0.9"/>
<line x1="700.2" y1="316.48" x2="701.4" y2="316.48" stroke="#8a8a8a" stroke-width="0.9"/>
<line x1="698" y1="308.12" x2="701.4" y2="308.12" stroke="#8a8a8a" stroke-width="0.9"/>
<text x="694.1" y="310.62" font-size="7.5" font-weight="normal" fill="#222" text-anchor="end" font-family='"Liberation Sans", sans-serif' stroke="#222" stroke-width="0.22">80</text>
<line x1="700.2" y1="299.76" x2="701.4" y2="299.76" stroke="#8a8a8a" stroke-width="0.9"/>
<line x1="700.2" y1="291.41" x2="701.4" y2="291.41" stroke="#8a8a8a" stroke-width="0.9"/>
<line x1="700.2" y1="283.06" x2="701.4" y2="283.06" stroke="#8a8a8a" stroke-width="0.9"/>
<line x1="698" y1="274.7" x2="701.4" y2="274.7" stroke="#8a8a8a" stroke-width="0.9"/>
<text x="694.1" y="277.2" font-size="7.5" font-weight="normal" fill="#222" text-anchor="end" font-family='"Liberation Sans", sans-serif' stroke="#222" stroke-width="0.22">100</text>
<line x1="716.6" y1="450.5" x2="716.6" y2="451.9" stroke="#8a8a8a" stroke-width="0.9"/>
<line x1="734" y1="450.5" x2="734" y2="451.9" stroke="#8a8a8a" stroke-width="0.9"/>
<line x1="751.4" y1="450.5" x2="751.4" y2="453.5" stroke="#8a8a8a" stroke-width="0.9"/>
<text x="751.4" y="461.2" font-size="7.5" font-weight="normal" fill="#222" text-anchor="middle" font-family='"Liberation Sans", sans-serif' stroke="#222" stroke-width="0.22">200</text>
<line x1="768.8" y1="450.5" x2="768.8" y2="451.9" stroke="#8a8a8a" stroke-width="0.9"/>
<line x1="786.2" y1="450.5" x2="786.2" y2="451.9" stroke="#8a8a8a" stroke-width="0.9"/>
<line x1="803.6" y1="450.5" x2="803.6" y2="451.9" stroke="#8a8a8a" stroke-width="0.9"/>
<line x1="821" y1="450.5" x2="821" y2="453.5" stroke="#8a8a8a" stroke-width="0.9"/>
<text x="821" y="461.2" font-size="7.5" font-weight="normal" fill="#222" text-anchor="middle" font-family='"Liberation Sans", sans-serif' stroke="#222" stroke-width="0.22">400</text>
<line x1="838.4" y1="450.5" x2="838.4" y2="451.9" stroke="#8a8a8a" stroke-width="0.9"/>
<line x1="855.8" y1="450.5" x2="855.8" y2="451.9" stroke="#8a8a8a" stroke-width="0.9"/>
<line x1="873.2" y1="450.5" x2="873.2" y2="451.9" stroke="#8a8a8a" stroke-width="0.9"/>
<line x1="890.6" y1="450.5" x2="890.6" y2="453.5" stroke="#8a8a8a" stroke-width="0.9"/>
<text x="890.6" y="461.2" font-size="7.5" font-weight="normal" fill="#222" text-anchor="middle" font-family='"Liberation Sans", sans-serif' stroke="#222" stroke-width="0.22">600</text>
<line x1="908" y1="450.5" x2="908" y2="451.9" stroke="#8a8a8a" stroke-width="0.9"/>
<line x1="925.4" y1="450.5" x2="925.4" y2="451.9" stroke="#8a8a8a" stroke-width="0.9"/>
<line x1="942.8" y1="450.5" x2="942.8" y2="451.9" stroke="#8a8a8a" stroke-width="0.9"/>
<line x1="960.2" y1="450.5" x2="960.2" y2="453.5" stroke="#8a8a8a" stroke-width="0.9"/>
<text x="960.2" y="461.2" font-size="7.5" font-weight="normal" fill="#222" text-anchor="middle" font-family='"Liberation Sans", sans-serif' stroke="#222" stroke-width="0.22">800</text>
<line x1="977.6" y1="450.5" x2="977.6" y2="451.9" stroke="#8a8a8a" stroke-width="0.9"/>
<line x1="995" y1="450.5" x2="995" y2="451.9" stroke="#8a8a8a" stroke-width="0.9"/>
<line x1="1012.4" y1="450.5" x2="1012.4" y2="451.9" stroke="#8a8a8a" stroke-width="0.9"/>
<line x1="1029.8" y1="450.5" x2="1029.8" y2="453.5" stroke="#8a8a8a" stroke-width="0.9"/>
<text x="1029.8" y="461.2" font-size="7.5" font-weight="normal" fill="#222" text-anchor="middle" font-family='"Liberation Sans", sans-serif' stroke="#222" stroke-width="0.22">1000</text>
<text x="876.7" y="473.3" font-size="14" font-weight="bold" fill="#000" text-anchor="middle" font-family='"Liberation Sans", sans-serif'>m/z</text>
<polyline points="701.9,441.7 703.9,441.67 705.9,441.71 707.9,441.74 709.9,441.74 711.9,441.88 713.9,441.74 715.9,441.8 717.9,441.7 719.9,441.75 721.9,441.66 723.9,441.73 725.9,441.65 727.9,441.87 729.9,441.82 731.9,441.71 733.9,441.79 735.9,441.93 737.9,441.68 739.9,441.9 741.9,441.78 743.9,441.8 745.9,441.9 747.9,441.77 749.9,441.8 751.9,441.86 753.9,441.94 755.9,441.75 757.9,441.9 759.9,441.86 761.9,441.84 763.9,441.77 765.9,441.75 767.9,441.67 769.9,441.69 771.9,441.67 773.9,441.87 775.9,441.73 777.9,441.7 779.9,441.68 781.9,441.9 783.9,441.91 785.9,441.85 787.9,441.73 789.9,441.72 791.9,441.74 793.9,441.79 795.9,441.7 797.9,441.78 799.9,441.73 801.9,441.94 803.9,441.94 805.9,441.81 807.9,441.72 809.9,441.94 811.9,441.74 813.9,441.76 815.9,441.65 817.9,441.76 819.9,441.79 821.9,441.8 823.9,441.71 825.9,441.8 827.9,441.65 829.9,441.73 831.9,441.68 833.9,441.77 835.9,441.66 837.9,441.66 839.9,441.74 841.9,441.72 843.9,441.83 845.9,441.81 847.9,441.88 849.9,441.85 851.9,441.86 853.9,441.91 855.9,441.77 857.9,441.75 859.9,441.95 861.9,441.69 863.9,441.87 865.9,441.84 867.9,441.66 869.9,441.9 871.9,441.92 873.9,441.84 875.9,441.87 877.9,441.89 879.9,441.69 881.9,441.81 883.9,441.8 885.9,441.9 887.9,441.89 889.9,441.9 891.9,441.83 893.9,441.92 895.9,441.85 897.9,441.86 899.9,441.72 901.9,441.66 903.9,441.69 905.9,441.76 907.9,441.68 909.9,441.9 911.9,441.82 913.9,441.84 915.9,441.84 917.9,441.85 919.9,441.8 921.9,441.65 923.9,441.89 925.9,441.87 927.9,441.8 929.9,441.81 931.9,441.85 933.9,441.67 935.9,441.87 937.9,441.73 939.9,441.67 941.9,441.73 943.9,441.87 945.9,441.71 947.9,441.87 949.9,441.94 951.9,441.8 953.9,441.76 955.9,441.79 957.9,441.86 959.9,441.88 961.9,441.84 963.9,441.84 965.9,441.67 967.9,441.69 969.9,441.73 971.9,441.87 973.9,441.74 975.9,441.82 977.9,441.65 979.9,441.67 981.9,441.73 983.9,441.85 985.9,441.86 987.9,441.85 989.9,441.74 991.9,441.8 993.9,441.79 995.9,441.79 997.9,441.69 999.9,441.92 1001.9,441.71 1003.9,441.94 1005.9,441.93 1007.9,441.66 1009.9,441.79 1011.9,441.9 1013.9,441.94 1015.9,441.78 1017.9,441.73 1019.9,441.71 1021.9,441.93 1023.9,441.71 1025.9,441.82 1027.9,441.69 1029.9,441.81 1031.9,441.94 1033.9,441.69 1035.9,441.9 1037.9,441.8 1039.9,441.92 1041.9,441.86" fill="none" stroke="#7070ff" stroke-width="1.1" stroke-linejoin="round"/>
<line x1="711.5" y1="442.3" x2="711.5" y2="433.44" stroke="#5050ff" stroke-width="1"/>
<line x1="717.5" y1="442.3" x2="717.5" y2="437.79" stroke="#5050ff" stroke-width="1"/>
<line x1="723.5" y1="442.3" x2="723.5" y2="440.13" stroke="#5050ff" stroke-width="1"/>
<line x1="730.5" y1="442.3" x2="730.5" y2="439.79" stroke="#5050ff" stroke-width="1"/>
<line x1="779.5" y1="442.3" x2="779.5" y2="437.79" stroke="#5050ff" stroke-width="1"/>
<line x1="790.5" y1="442.3" x2="790.5" y2="435.78" stroke="#5050ff" stroke-width="1"/>
<line x1="806.5" y1="442.3" x2="806.5" y2="438.46" stroke="#5050ff" stroke-width="1"/>
<line x1="812.5" y1="442.3" x2="812.5" y2="439.29" stroke="#5050ff" stroke-width="1"/>
<line x1="846.5" y1="442.3" x2="846.5" y2="413.39" stroke="#6a6aff" stroke-width="1.1"/>
<line x1="853.5" y1="442.3" x2="853.5" y2="432.11" stroke="#5050ff" stroke-width="1"/>
<line x1="867.5" y1="442.3" x2="867.5" y2="425.09" stroke="#6a6aff" stroke-width="1.1"/>
<line x1="874.5" y1="442.3" x2="874.5" y2="427.6" stroke="#6a6aff" stroke-width="1.1"/>
<line x1="885.5" y1="442.3" x2="885.5" y2="274.7" stroke="#6a6aff" stroke-width="1.1"/>
<line x1="886.5" y1="442.3" x2="886.5" y2="393.34" stroke="#6a6aff" stroke-width="1.3"/>
<line x1="886.5" y1="442.3" x2="886.5" y2="433.44" stroke="#5050ff" stroke-width="1"/>
<line x1="889.5" y1="442.3" x2="889.5" y2="434.28" stroke="#5050ff" stroke-width="1"/>
<line x1="893.5" y1="442.3" x2="893.5" y2="354.91" stroke="#6a6aff" stroke-width="1.1"/>
<line x1="894.5" y1="442.3" x2="894.5" y2="431.77" stroke="#5050ff" stroke-width="1"/>
<line x1="896.5" y1="442.3" x2="896.5" y2="436.79" stroke="#5050ff" stroke-width="1"/>
<line x1="898.5" y1="442.3" x2="898.5" y2="438.46" stroke="#5050ff" stroke-width="1"/>
<line x1="904.5" y1="442.3" x2="904.5" y2="436.79" stroke="#5050ff" stroke-width="1"/>
<line x1="908.5" y1="442.3" x2="908.5" y2="438.46" stroke="#5050ff" stroke-width="1"/>
<line x1="914.5" y1="442.3" x2="914.5" y2="438.46" stroke="#5050ff" stroke-width="1"/>
<line x1="925.5" y1="442.3" x2="925.5" y2="438.79" stroke="#5050ff" stroke-width="1"/>
<line x1="932.5" y1="442.3" x2="932.5" y2="439.29" stroke="#5050ff" stroke-width="1"/>
<line x1="993.5" y1="442.3" x2="993.5" y2="438.79" stroke="#5050ff" stroke-width="1"/>
<line x1="1015.5" y1="442.3" x2="1015.5" y2="440.13" stroke="#5050ff" stroke-width="1"/>
<ellipse cx="881" cy="279.1" rx="11" ry="16.2" fill="none" stroke="#f00000" stroke-width="2.9"/>
<text x="880.9" y="278.1" font-size="8.4" font-weight="normal" fill="#111" text-anchor="middle" font-family='"Liberation Sans", sans-serif' transform="rotate(-90 880.9 278.1)" dominant-baseline="central" stroke="#111" stroke-width="0.22">586.2</text>
<ellipse cx="887.9" cy="338.2" rx="11.9" ry="16.6" fill="none" stroke="#f00000" stroke-width="2.9"/>
<text x="889.3" y="339.5" font-size="8.4" font-weight="normal" fill="#111" text-anchor="middle" font-family='"Liberation Sans", sans-serif' transform="rotate(-90 889.3 339.5)" dominant-baseline="central" stroke="#111" stroke-width="0.22">608.2</text>
<text x="880.9" y="373" font-size="8.4" font-weight="normal" fill="#111" text-anchor="middle" font-family='"Liberation Sans", sans-serif' transform="rotate(-90 880.9 373)" dominant-baseline="central" stroke="#111" stroke-width="0.22">587.2</text>
<text x="847.6" y="418.6" font-size="8.4" font-weight="normal" fill="#111" text-anchor="middle" font-family='"Liberation Sans", sans-serif' transform="rotate(-90 847.6 418.6)" dominant-baseline="central" stroke="#111" stroke-width="0.22">494.2</text>
<text x="868.9" y="412.9" font-size="8.4" font-weight="normal" fill="#111" text-anchor="middle" font-family='"Liberation Sans", sans-serif' transform="rotate(-90 868.9 412.9)" dominant-baseline="central" stroke="#111" stroke-width="0.22">553.2</text>
<text x="881.6" y="418.1" font-size="8.4" font-weight="normal" fill="#111" text-anchor="middle" font-family='"Liberation Sans", sans-serif' transform="rotate(-90 881.6 418.1)" dominant-baseline="central" stroke="#111" stroke-width="0.22">589.2</text>
<text x="806.6" y="401.5" font-size="9" font-weight="normal" fill="#111" text-anchor="middle" font-family='"Liberation Sans", sans-serif' stroke="#111" stroke-width="0.22">Exact Mass: 585.25</text>
<rect x="674.6" y="461.6" width="1" height="1" fill="#bbb"/>
<text transform="translate(6.5 251.8) scale(1 1.08)" x="0" y="0" font-size="15.4" font-weight="bold" fill="#000" stroke="#000" stroke-width="0.35" font-family='"Liberation Sans", sans-serif'>(D)</text>
<line x1="37.7" y1="459.8" x2="207.2" y2="459.8" stroke="#222" stroke-width="1.2"/>
<line x1="38.3" y1="459.2" x2="38.3" y2="466.4" stroke="#111" stroke-width="1.2"/>
<text x="38.3" y="479.6" font-size="9.2" font-weight="normal" fill="#111" text-anchor="middle" font-family='"Liberation Sans", sans-serif' stroke="#111" stroke-width="0.22">8</text>
<line x1="43.07" y1="459.8" x2="43.07" y2="463.2" stroke="#333" stroke-width="1.1"/>
<line x1="47.83" y1="459.8" x2="47.83" y2="463.2" stroke="#333" stroke-width="1.1"/>
<line x1="52.6" y1="459.8" x2="52.6" y2="463.2" stroke="#333" stroke-width="1.1"/>
<line x1="57.36" y1="459.8" x2="57.36" y2="463.2" stroke="#333" stroke-width="1.1"/>
<line x1="62.13" y1="459.2" x2="62.13" y2="466.4" stroke="#111" stroke-width="1.2"/>
<text x="62.13" y="479.6" font-size="9.2" font-weight="normal" fill="#111" text-anchor="middle" font-family='"Liberation Sans", sans-serif' stroke="#111" stroke-width="0.22">7</text>
<line x1="66.9" y1="459.8" x2="66.9" y2="463.2" stroke="#333" stroke-width="1.1"/>
<line x1="71.66" y1="459.8" x2="71.66" y2="463.2" stroke="#333" stroke-width="1.1"/>
<line x1="76.43" y1="459.8" x2="76.43" y2="463.2" stroke="#333" stroke-width="1.1"/>
<line x1="81.19" y1="459.8" x2="81.19" y2="463.2" stroke="#333" stroke-width="1.1"/>
<line x1="85.96" y1="459.2" x2="85.96" y2="466.4" stroke="#111" stroke-width="1.2"/>
<text x="85.96" y="479.6" font-size="9.2" font-weight="normal" fill="#111" text-anchor="middle" font-family='"Liberation Sans", sans-serif' stroke="#111" stroke-width="0.22">6</text>
<line x1="90.73" y1="459.8" x2="90.73" y2="463.2" stroke="#333" stroke-width="1.1"/>
<line x1="95.49" y1="459.8" x2="95.49" y2="463.2" stroke="#333" stroke-width="1.1"/>
<line x1="100.26" y1="459.8" x2="100.26" y2="463.2" stroke="#333" stroke-width="1.1"/>
<line x1="105.02" y1="459.8" x2="105.02" y2="463.2" stroke="#333" stroke-width="1.1"/>
<line x1="109.79" y1="459.2" x2="109.79" y2="466.4" stroke="#111" stroke-width="1.2"/>
<text x="109.79" y="479.6" font-size="9.2" font-weight="normal" fill="#111" text-anchor="middle" font-family='"Liberation Sans", sans-serif' stroke="#111" stroke-width="0.22">5</text>
<line x1="114.56" y1="459.8" x2="114.56" y2="463.2" stroke="#333" stroke-width="1.1"/>
<line x1="119.32" y1="459.8" x2="119.32" y2="463.2" stroke="#333" stroke-width="1.1"/>
<line x1="124.09" y1="459.8" x2="124.09" y2="463.2" stroke="#333" stroke-width="1.1"/>
<line x1="128.85" y1="459.8" x2="128.85" y2="463.2" stroke="#333" stroke-width="1.1"/>
<line x1="133.62" y1="459.2" x2="133.62" y2="466.4" stroke="#111" stroke-width="1.2"/>
<text x="133.62" y="479.6" font-size="9.2" font-weight="normal" fill="#111" text-anchor="middle" font-family='"Liberation Sans", sans-serif' stroke="#111" stroke-width="0.22">4</text>
<line x1="138.39" y1="459.8" x2="138.39" y2="463.2" stroke="#333" stroke-width="1.1"/>
<line x1="143.15" y1="459.8" x2="143.15" y2="463.2" stroke="#333" stroke-width="1.1"/>
<line x1="147.92" y1="459.8" x2="147.92" y2="463.2" stroke="#333" stroke-width="1.1"/>
<line x1="152.68" y1="459.8" x2="152.68" y2="463.2" stroke="#333" stroke-width="1.1"/>
<line x1="157.45" y1="459.2" x2="157.45" y2="466.4" stroke="#111" stroke-width="1.2"/>
<text x="157.45" y="479.6" font-size="9.2" font-weight="normal" fill="#111" text-anchor="middle" font-family='"Liberation Sans", sans-serif' stroke="#111" stroke-width="0.22">3</text>
<line x1="162.22" y1="459.8" x2="162.22" y2="463.2" stroke="#333" stroke-width="1.1"/>
<line x1="166.98" y1="459.8" x2="166.98" y2="463.2" stroke="#333" stroke-width="1.1"/>
<line x1="171.75" y1="459.8" x2="171.75" y2="463.2" stroke="#333" stroke-width="1.1"/>
<line x1="176.51" y1="459.8" x2="176.51" y2="463.2" stroke="#333" stroke-width="1.1"/>
<line x1="181.28" y1="459.2" x2="181.28" y2="466.4" stroke="#111" stroke-width="1.2"/>
<text x="181.28" y="479.6" font-size="9.2" font-weight="normal" fill="#111" text-anchor="middle" font-family='"Liberation Sans", sans-serif' stroke="#111" stroke-width="0.22">2</text>
<line x1="186.05" y1="459.8" x2="186.05" y2="463.2" stroke="#333" stroke-width="1.1"/>
<line x1="190.81" y1="459.8" x2="190.81" y2="463.2" stroke="#333" stroke-width="1.1"/>
<line x1="195.58" y1="459.8" x2="195.58" y2="463.2" stroke="#333" stroke-width="1.1"/>
<line x1="200.34" y1="459.8" x2="200.34" y2="463.2" stroke="#333" stroke-width="1.1"/>
<line x1="205.11" y1="459.2" x2="205.11" y2="466.4" stroke="#111" stroke-width="1.2"/>
<text x="205.11" y="479.6" font-size="9.2" font-weight="normal" fill="#111" text-anchor="middle" font-family='"Liberation Sans", sans-serif' stroke="#111" stroke-width="0.22">1</text>
<text x="121.8" y="491.5" font-size="8.8" font-weight="normal" fill="#111" text-anchor="middle" font-family='"Liberation Sans", sans-serif' stroke="#111" stroke-width="0.22">ppm</text>
<polyline points="38.5,452.86 47.3,452.7 48.5,452.55 49.1,452.38 49.5,452.17 49.8,451.93 50,451.72 50.2,451.45 50.3,451.3 50.4,451.14 50.5,450.99 50.7,450.73 51.3,450.95 51.5,451.24 51.7,451.52 51.9,451.74 52.1,451.91 52.4,452.08 53,452.23 54.2,452.08 54.6,451.87 54.8,451.71 55,451.51 55.2,451.25 55.3,451.09 55.4,450.9 55.5,450.69 55.6,450.45 55.7,450.18 55.8,449.87 55.9,449.54 56,449.18 56.1,448.81 56.2,448.44 56.3,448.1 56.4,447.82 56.5,447.64 56.7,447.65 56.8,447.83 56.9,448.11 57,448.45 57.1,448.82 57.2,449.2 57.3,449.56 57.4,449.9 57.5,450.21 57.6,450.48 57.7,450.73 57.8,450.94 57.9,451.13 58,451.3 58.2,451.57 58.4,451.78 58.6,451.95 58.9,452.13 59.3,452.3 59.9,452.46 62.8,452.62 65,452.77 89.8,452.62 93.6,452.47 96.1,452.31 98.1,452.16 100,452.01 108,452.16 110.1,452.32 112.8,452.47 120.2,452.31 120.6,452.13 120.9,451.91 121.1,451.72 121.3,451.48 121.5,451.23 121.7,451.03 122.3,451.24 122.5,451.5 122.7,451.74 122.9,451.94 123.1,452.09 123.4,452.27 123.9,452.44 124.9,452.6 135.3,452.45 135.8,452.28 136.1,452.13 136.4,451.9 136.6,451.7 136.8,451.45 137,451.16 137.2,450.87 137.4,450.66 138,450.81 138.3,450.98 139.2,451.19 139.4,451.39 139.6,451.6 139.8,451.8 140,451.96 140.3,452.13 140.8,452.3 143.3,452.11 143.6,451.94 143.8,451.78 144,451.58 144.2,451.33 144.3,451.18 144.4,451.02 144.5,450.85 144.6,450.69 144.7,450.53 144.9,450.32 145.4,450.58 145.6,450.85 145.8,451.1 146,451.28 146.3,451.44 147.1,451.26 147.3,451.07 147.5,450.79 147.6,450.62 147.7,450.42 147.8,450.19 147.9,449.92 148,449.62 148.1,449.29 148.2,448.94 148.3,448.57 148.4,448.2 148.5,447.86 148.6,447.59 148.7,447.41 148.9,447.41 149,447.59 149.1,447.86 149.2,448.19 149.3,448.56 149.4,448.93 149.5,449.28 149.6,449.61 149.7,449.9 149.8,450.16 149.9,450.38 150,450.58 150.1,450.74 150.3,450.99 150.5,451.16 151.7,451 151.9,450.84 152.1,450.65 152.3,450.45 152.5,450.24 152.7,450.02 152.9,449.81 153.1,449.62 153.3,449.46 153.6,449.3 154.4,449.46 154.6,449.63 154.8,449.83 155,450.06 155.2,450.31 155.4,450.56 155.6,450.81 155.8,451.05 156,451.28 156.2,451.49 156.4,451.68 156.6,451.85 156.9,452.06 157.2,452.22 157.6,452.38 158.3,452.53 162.1,452.38 162.5,452.23 162.8,452.05 163,451.89 163.2,451.68 163.4,451.44 163.6,451.16 163.8,450.92 164.1,450.76 164.6,450.94 165.3,451.09 165.6,451.31 165.8,451.5 166,451.67 166.3,451.86 167.5,451.66 167.7,451.48 167.9,451.31 168.6,451.47 168.8,451.69 169,451.9 169.2,452.08 169.5,452.27 169.9,452.44 170.6,452.6 172.6,452.75 184.6,452.59 185.4,452.43 185.9,452.23 186.2,452.05 186.4,451.9 186.6,451.72 186.8,451.56 187.1,451.37 187.6,451.18 187.9,450.95 188.1,450.74 188.3,450.5 188.5,450.28 188.7,450.05 188.8,449.92 188.9,449.77 189,449.59 189.1,449.4 189.2,449.18 189.3,448.96 189.4,448.76 189.5,448.61 189.8,448.58 189.9,448.75 190,448.99 190.1,449.27 190.2,449.57 190.3,449.87 190.4,450.16 190.5,450.42 190.6,450.67 190.7,450.88 190.8,451.08 190.9,451.25 191.1,451.53 191.3,451.74 191.5,451.9 191.8,452.08 192.2,452.24 196,452.06 196.3,451.84 196.5,451.63 196.7,451.39 196.9,451.16 197.1,451.01 197.6,451.25 197.8,451.48 198,451.68 198.2,451.84 198.6,452 200.2,452.21 200.5,452.37 201,452.55 202,452.71 207,452.85" fill="none" stroke="#000" stroke-width="1.4" stroke-linejoin="round"/>
<line x1="50.9" y1="452.9" x2="50.9" y2="399.8" stroke="#000" stroke-width="1.25"/>
<line x1="56.6" y1="452.9" x2="56.6" y2="322.1" stroke="#000" stroke-width="1.25"/>
<line x1="62.2" y1="452.9" x2="62.2" y2="448.6" stroke="#000" stroke-width="1.25"/>
<line x1="121.9" y1="452.9" x2="121.9" y2="408.5" stroke="#000" stroke-width="1.25"/>
<line x1="137.5" y1="452.9" x2="137.5" y2="407" stroke="#000" stroke-width="1.25"/>
<line x1="139" y1="452.9" x2="139" y2="423" stroke="#000" stroke-width="1.25"/>
<line x1="145" y1="452.9" x2="145" y2="398" stroke="#000" stroke-width="1.25"/>
<line x1="148.8" y1="452.9" x2="148.8" y2="322" stroke="#000" stroke-width="1.25"/>
<line x1="164" y1="452.9" x2="164" y2="412.4" stroke="#000" stroke-width="1.25"/>
<line x1="165.3" y1="452.9" x2="165.3" y2="426" stroke="#000" stroke-width="1.25"/>
<line x1="168.2" y1="452.9" x2="168.2" y2="416" stroke="#000" stroke-width="1.25"/>
<line x1="187" y1="452.9" x2="187" y2="434" stroke="#000" stroke-width="1.25"/>
<line x1="188.4" y1="452.9" x2="188.4" y2="429" stroke="#000" stroke-width="1.25"/>
<line x1="189.7" y1="452.9" x2="189.7" y2="354.2" stroke="#000" stroke-width="1.25"/>
<line x1="194.2" y1="452.9" x2="194.2" y2="445" stroke="#000" stroke-width="1.25"/>
<line x1="197.2" y1="452.9" x2="197.2" y2="410" stroke="#000" stroke-width="1.25"/>
<line x1="199.6" y1="452.9" x2="199.6" y2="435.4" stroke="#000" stroke-width="1.25"/>
<line x1="141.9" y1="452.5" x2="141.9" y2="321.5" stroke="#000" stroke-width="1.5"/>
<line x1="143.4" y1="452.5" x2="143.4" y2="321.5" stroke="#000" stroke-width="1.4"/>
<line x1="141.9" y1="314.5" x2="142" y2="294.4" stroke="#000" stroke-width="1"/>
<line x1="137.9" y1="314.1" x2="145.7" y2="317.7" stroke="#000" stroke-width="0.9"/>
<line x1="137.9" y1="320.7" x2="145.7" y2="324.3" stroke="#000" stroke-width="0.9"/>
<circle cx="55.0" cy="316.3" r="1.0" fill="#ff1010"/>
<text x="49.4" y="395" font-size="9.6" font-weight="normal" fill="#ff1010" text-anchor="middle" font-family='"Liberation Sans", sans-serif' stroke="#ff1010" stroke-width="0.3">e</text>
<text x="121.9" y="399.8" font-size="9.6" font-weight="normal" fill="#ff1010" text-anchor="middle" font-family='"Liberation Sans", sans-serif' stroke="#ff1010" stroke-width="0.3">f</text>
<text x="136.5" y="399.8" font-size="9.6" font-weight="normal" fill="#ff1010" text-anchor="middle" font-family='"Liberation Sans", sans-serif' stroke="#ff1010" stroke-width="0.3">g</text>
<text x="137.3" y="311" font-size="9.6" font-weight="normal" fill="#ff1010" text-anchor="middle" font-family='"Liberation Sans", sans-serif' stroke="#ff1010" stroke-width="0.3">h</text>
<text x="148.9" y="318" font-size="9.6" font-weight="normal" fill="#ff1010" text-anchor="middle" font-family='"Liberation Sans", sans-serif' stroke="#ff1010" stroke-width="0.3">i</text>
<text x="162.8" y="405.7" font-size="9.6" font-weight="normal" fill="#ff1010" text-anchor="middle" font-family='"Liberation Sans", sans-serif' stroke="#ff1010" stroke-width="0.3">d</text>
<text x="169.3" y="411.7" font-size="9.6" font-weight="normal" fill="#ff1010" text-anchor="middle" font-family='"Liberation Sans", sans-serif' stroke="#ff1010" stroke-width="0.3">a</text>
<text x="189.8" y="331.7" font-size="9.6" font-weight="normal" fill="#ff1010" text-anchor="middle" font-family='"Liberation Sans", sans-serif' stroke="#ff1010" stroke-width="0.3">b</text>
<text x="189.8" y="343.6" font-size="9.6" font-weight="normal" fill="#ff1010" text-anchor="middle" font-family='"Liberation Sans", sans-serif' stroke="#ff1010" stroke-width="0.3">c</text>
<text transform="translate(275.9 253.9) scale(1 1.08)" x="0" y="0" font-size="15.4" font-weight="bold" fill="#000" stroke="#000" stroke-width="0.35" font-family='"Liberation Sans", sans-serif'>(E)</text>
<line x1="357.3" y1="459" x2="536" y2="459" stroke="#222" stroke-width="1.2"/>
<line x1="357.9" y1="458.4" x2="357.9" y2="465.6" stroke="#111" stroke-width="1.2"/>
<text x="357.9" y="478.8" font-size="9.2" font-weight="normal" fill="#111" text-anchor="middle" font-family='"Liberation Sans", sans-serif' stroke="#111" stroke-width="0.22">8</text>
<line x1="362.96" y1="459" x2="362.96" y2="462.4" stroke="#333" stroke-width="1.1"/>
<line x1="368.02" y1="459" x2="368.02" y2="462.4" stroke="#333" stroke-width="1.1"/>
<line x1="373.08" y1="459" x2="373.08" y2="462.4" stroke="#333" stroke-width="1.1"/>
<line x1="378.14" y1="459" x2="378.14" y2="462.4" stroke="#333" stroke-width="1.1"/>
<line x1="383.2" y1="458.4" x2="383.2" y2="465.6" stroke="#111" stroke-width="1.2"/>
<text x="383.2" y="478.8" font-size="9.2" font-weight="normal" fill="#111" text-anchor="middle" font-family='"Liberation Sans", sans-serif' stroke="#111" stroke-width="0.22">7</text>
<line x1="388.26" y1="459" x2="388.26" y2="462.4" stroke="#333" stroke-width="1.1"/>
<line x1="393.32" y1="459" x2="393.32" y2="462.4" stroke="#333" stroke-width="1.1"/>
<line x1="398.38" y1="459" x2="398.38" y2="462.4" stroke="#333" stroke-width="1.1"/>
<line x1="403.44" y1="459" x2="403.44" y2="462.4" stroke="#333" stroke-width="1.1"/>
<line x1="408.5" y1="458.4" x2="408.5" y2="465.6" stroke="#111" stroke-width="1.2"/>
<text x="408.5" y="478.8" font-size="9.2" font-weight="normal" fill="#111" text-anchor="middle" font-family='"Liberation Sans", sans-serif' stroke="#111" stroke-width="0.22">6</text>
<line x1="413.56" y1="459" x2="413.56" y2="462.4" stroke="#333" stroke-width="1.1"/>
<line x1="418.62" y1="459" x2="418.62" y2="462.4" stroke="#333" stroke-width="1.1"/>
<line x1="423.68" y1="459" x2="423.68" y2="462.4" stroke="#333" stroke-width="1.1"/>
<line x1="428.74" y1="459" x2="428.74" y2="462.4" stroke="#333" stroke-width="1.1"/>
<line x1="433.8" y1="458.4" x2="433.8" y2="465.6" stroke="#111" stroke-width="1.2"/>
<text x="433.8" y="478.8" font-size="9.2" font-weight="normal" fill="#111" text-anchor="middle" font-family='"Liberation Sans", sans-serif' stroke="#111" stroke-width="0.22">5</text>
<line x1="438.86" y1="459" x2="438.86" y2="462.4" stroke="#333" stroke-width="1.1"/>
<line x1="443.92" y1="459" x2="443.92" y2="462.4" stroke="#333" stroke-width="1.1"/>
<line x1="448.98" y1="459" x2="448.98" y2="462.4" stroke="#333" stroke-width="1.1"/>
<line x1="454.04" y1="459" x2="454.04" y2="462.4" stroke="#333" stroke-width="1.1"/>
<line x1="459.1" y1="458.4" x2="459.1" y2="465.6" stroke="#111" stroke-width="1.2"/>
<text x="459.1" y="478.8" font-size="9.2" font-weight="normal" fill="#111" text-anchor="middle" font-family='"Liberation Sans", sans-serif' stroke="#111" stroke-width="0.22">4</text>
<line x1="464.16" y1="459" x2="464.16" y2="462.4" stroke="#333" stroke-width="1.1"/>
<line x1="469.22" y1="459" x2="469.22" y2="462.4" stroke="#333" stroke-width="1.1"/>
<line x1="474.28" y1="459" x2="474.28" y2="462.4" stroke="#333" stroke-width="1.1"/>
<line x1="479.34" y1="459" x2="479.34" y2="462.4" stroke="#333" stroke-width="1.1"/>
<line x1="484.4" y1="458.4" x2="484.4" y2="465.6" stroke="#111" stroke-width="1.2"/>
<text x="484.4" y="478.8" font-size="9.2" font-weight="normal" fill="#111" text-anchor="middle" font-family='"Liberation Sans", sans-serif' stroke="#111" stroke-width="0.22">3</text>
<line x1="489.46" y1="459" x2="489.46" y2="462.4" stroke="#333" stroke-width="1.1"/>
<line x1="494.52" y1="459" x2="494.52" y2="462.4" stroke="#333" stroke-width="1.1"/>
<line x1="499.58" y1="459" x2="499.58" y2="462.4" stroke="#333" stroke-width="1.1"/>
<line x1="504.64" y1="459" x2="504.64" y2="462.4" stroke="#333" stroke-width="1.1"/>
<line x1="509.7" y1="458.4" x2="509.7" y2="465.6" stroke="#111" stroke-width="1.2"/>
<text x="509.7" y="478.8" font-size="9.2" font-weight="normal" fill="#111" text-anchor="middle" font-family='"Liberation Sans", sans-serif' stroke="#111" stroke-width="0.22">2</text>
<line x1="514.76" y1="459" x2="514.76" y2="462.4" stroke="#333" stroke-width="1.1"/>
<line x1="519.82" y1="459" x2="519.82" y2="462.4" stroke="#333" stroke-width="1.1"/>
<line x1="524.88" y1="459" x2="524.88" y2="462.4" stroke="#333" stroke-width="1.1"/>
<line x1="529.94" y1="459" x2="529.94" y2="462.4" stroke="#333" stroke-width="1.1"/>
<line x1="535" y1="458.4" x2="535" y2="465.6" stroke="#111" stroke-width="1.2"/>
<text x="535" y="478.8" font-size="9.2" font-weight="normal" fill="#111" text-anchor="middle" font-family='"Liberation Sans", sans-serif' stroke="#111" stroke-width="0.22">1</text>
<text x="446.2" y="491" font-size="8.8" font-weight="normal" fill="#111" text-anchor="middle" font-family='"Liberation Sans", sans-serif' stroke="#111" stroke-width="0.22">ppm</text>
<polyline points="358,450.55 368.3,450.4 369.6,450.24 370.1,450.08 370.5,449.87 370.8,449.63 371,449.45 371.2,449.26 372.1,449.46 372.4,449.67 372.8,449.84 374.3,449.66 374.6,449.46 374.8,449.28 375,449.04 375.1,448.9 375.2,448.73 375.3,448.54 375.4,448.33 375.5,448.08 375.6,447.8 375.7,447.49 375.8,447.15 375.9,446.78 376,446.4 376.1,446.02 376.2,445.67 376.3,445.39 376.4,445.2 376.6,445.2 376.7,445.38 376.8,445.66 376.9,446 377,446.37 377.1,446.74 377.2,447.1 377.3,447.44 377.4,447.74 377.5,448.01 377.6,448.24 377.7,448.44 377.8,448.62 377.9,448.78 378.1,449.04 378.3,449.25 378.5,449.44 378.7,449.6 379,449.79 379.4,449.97 380,450.13 381.3,450.28 387.1,450.12 387.6,449.96 388,449.79 388.4,449.6 388.7,449.4 388.9,449.22 389.1,448.98 389.2,448.84 389.3,448.69 389.4,448.53 389.5,448.36 389.6,448.21 389.8,447.96 390.4,448.23 390.5,448.4 390.6,448.57 390.7,448.73 390.8,448.9 390.9,449.05 391.1,449.31 391.3,449.52 391.5,449.69 391.8,449.88 392.2,450.05 392.8,450.2 394.2,450.35 416.3,450.2 419.7,450.05 422.2,449.9 424.4,449.75 426.7,449.59 435.7,449.74 438,449.9 440.9,450.05 445.7,449.88 446.1,449.69 446.4,449.48 446.6,449.32 446.9,449.15 447.4,449.34 447.6,449.51 447.8,449.67 448.1,449.85 448.5,450.02 449.2,450.17 451.5,450.32 461,450.16 461.6,449.99 462,449.79 462.3,449.56 462.5,449.36 462.7,449.12 462.9,448.89 463.1,448.71 464,448.86 464.8,449.03 465,449.2 465.2,449.4 465.4,449.57 465.7,449.76 466.1,449.93 468.7,449.74 469,449.55 469.2,449.38 469.4,449.15 469.5,449.01 469.6,448.86 469.7,448.68 469.8,448.48 469.9,448.27 470,448.03 470.1,447.79 470.2,447.55 470.3,447.33 470.4,447.15 470.6,446.98 470.8,447.13 470.9,447.3 471,447.51 471.1,447.73 471.2,447.97 471.3,448.19 471.4,448.39 471.5,448.58 471.6,448.74 471.8,449 472,449.19 472.3,449.35 473.3,449.14 473.5,448.93 473.7,448.65 473.8,448.5 473.9,448.33 474,448.16 474.1,448.01 474.3,447.81 474.7,448.07 474.8,448.24 474.9,448.42 475,448.61 475.1,448.79 475.2,448.96 475.3,449.11 475.5,449.37 475.7,449.57 475.9,449.73 476.2,449.9 476.6,450.06 477.3,450.21 479,450.36 490.3,450.21 490.8,450.05 491.1,449.89 491.4,449.69 491.7,449.5 492.4,449.67 492.7,449.86 493.1,450.04 494.1,450.19 495.4,450.01 495.8,449.83 496.1,449.67 497,449.83 497.4,450.02 498,450.17 505.5,450.02 506.8,449.86 507.7,449.71 508.4,449.55 509,449.38 509.4,449.22 509.8,449.03 510.1,448.83 510.3,448.67 510.5,448.48 510.7,448.25 510.8,448.11 510.9,447.96 511,447.79 511.1,447.6 511.2,447.39 511.3,447.16 511.4,446.9 511.5,446.61 511.6,446.29 511.7,445.94 511.8,445.55 511.9,445.11 512,444.64 512.1,444.12 512.2,443.54 512.3,442.92 512.4,442.23 512.5,441.49 512.6,440.68 512.7,439.82 512.8,438.88 512.9,437.88 513,436.81 513.1,435.67 513.2,434.47 513.3,433.19 513.4,431.86 513.5,430.45 513.6,429 513.7,427.48 513.8,425.92 513.9,424.32 514,422.68 514.1,421.02 514.2,419.34 514.3,417.66 514.4,415.99 514.5,414.33 514.6,412.71 514.7,411.14 514.8,409.62 514.9,408.19 515,406.85 515.1,405.63 515.2,404.52 515.3,403.56 515.4,402.75 515.5,402.11 515.6,401.65 515.7,401.36 515.9,401.36 516,401.65 516.1,402.11 516.2,402.75 516.3,403.56 516.4,404.52 516.5,405.62 516.6,406.85 516.7,408.19 516.8,409.62 516.9,411.13 517,412.71 517.1,414.33 517.2,415.99 517.3,417.66 517.4,419.34 517.5,421.02 517.6,422.68 517.7,424.32 517.8,425.92 517.9,427.48 518,428.99 518.1,430.45 518.2,431.85 518.3,433.19 518.4,434.46 518.5,435.67 518.6,436.81 518.7,437.88 518.8,438.88 518.9,439.81 519,440.68 519.1,441.48 519.2,442.22 519.3,442.91 519.4,443.53 519.5,444.11 519.6,444.63 519.7,445.11 519.8,445.54 519.9,445.93 520,446.28 520.1,446.6 520.2,446.89 520.3,447.15 520.4,447.38 520.5,447.59 520.6,447.77 520.7,447.94 520.8,448.09 521,448.35 521.2,448.56 521.4,448.74 521.7,448.94 522,449.1 522.4,449.27 522.9,449.42 523.6,449.57 525.9,449.38 526.2,449.2 527.2,449.39 527.5,449.59 527.9,449.75 529.7,449.93 530.2,450.09 531.2,450.24 534.4,450.39 536,450.43" fill="none" stroke="#000" stroke-width="1.9" stroke-linejoin="round"/>
<line x1="371.5" y1="450.6" x2="371.5" y2="418.9" stroke="#000" stroke-width="1.4"/>
<line x1="376.5" y1="450.6" x2="376.5" y2="317.5" stroke="#000" stroke-width="1.4"/>
<line x1="378.2" y1="450.6" x2="378.2" y2="445.8" stroke="#000" stroke-width="1.4"/>
<line x1="383.6" y1="450.6" x2="383.6" y2="445.8" stroke="#000" stroke-width="1.4"/>
<line x1="388.1" y1="450.6" x2="388.1" y2="446" stroke="#000" stroke-width="1.4"/>
<line x1="447" y1="450.6" x2="447" y2="422" stroke="#000" stroke-width="1.4"/>
<line x1="463.2" y1="450.6" x2="463.2" y2="414.6" stroke="#000" stroke-width="1.4"/>
<line x1="464.6" y1="450.6" x2="464.6" y2="424" stroke="#000" stroke-width="1.4"/>
<line x1="470.6" y1="450.6" x2="470.6" y2="367" stroke="#000" stroke-width="1.4"/>
<line x1="474.4" y1="450.6" x2="474.4" y2="387.6" stroke="#000" stroke-width="1.4"/>
<line x1="491.9" y1="450.6" x2="491.9" y2="426.4" stroke="#000" stroke-width="1.4"/>
<line x1="496.4" y1="450.6" x2="496.4" y2="431.2" stroke="#000" stroke-width="1.4"/>
<line x1="526.6" y1="450.6" x2="526.6" y2="425.8" stroke="#000" stroke-width="1.4"/>
<line x1="529.2" y1="450.6" x2="529.2" y2="441.7" stroke="#000" stroke-width="1.4"/>
<path d="M464.6,450.9 L466.3,447 L467.0,440 L467.3,420 L467.5,380 L467.6,318 L469.8,318 L469.9,360 L470.6,366 L471.0,390 L471.4,420 L471.8,440 L472.8,447 L474.0,450.9 Z" fill="#000"/>
<line x1="468.6" y1="311.5" x2="468.4" y2="284.5" stroke="#000" stroke-width="1"/>
<line x1="464.6" y1="309.5" x2="472.6" y2="312.7" stroke="#000" stroke-width="0.9"/>
<line x1="464.6" y1="315.5" x2="472.6" y2="318.7" stroke="#000" stroke-width="0.9"/>
<circle cx="376.4" cy="311.2" r="1.0" fill="#ff1010"/>
<text x="371" y="411.6" font-size="9.6" font-weight="normal" fill="#ff1010" text-anchor="middle" font-family='"Liberation Sans", sans-serif' stroke="#ff1010" stroke-width="0.3">e</text>
<text x="447.3" y="409.9" font-size="9.6" font-weight="normal" fill="#ff1010" text-anchor="middle" font-family='"Liberation Sans", sans-serif' stroke="#ff1010" stroke-width="0.3">f</text>
<text x="462.6" y="411.5" font-size="9.6" font-weight="normal" fill="#ff1010" text-anchor="middle" font-family='"Liberation Sans", sans-serif' stroke="#ff1010" stroke-width="0.3">g</text>
<text x="462.3" y="333.6" font-size="9.6" font-weight="normal" fill="#ff1010" text-anchor="middle" font-family='"Liberation Sans", sans-serif' stroke="#ff1010" stroke-width="0.3">h</text>
<text x="474.4" y="379.6" font-size="9.6" font-weight="normal" fill="#ff1010" text-anchor="middle" font-family='"Liberation Sans", sans-serif' stroke="#ff1010" stroke-width="0.3">i</text>
<text x="489.8" y="417.3" font-size="9.6" font-weight="normal" fill="#ff1010" text-anchor="middle" font-family='"Liberation Sans", sans-serif' stroke="#ff1010" stroke-width="0.3">d</text>
<text x="498.2" y="417.3" font-size="9.6" font-weight="normal" fill="#ff1010" text-anchor="middle" font-family='"Liberation Sans", sans-serif' stroke="#ff1010" stroke-width="0.3">a</text>
<text x="516.2" y="381.3" font-size="9.6" font-weight="normal" fill="#ff1010" text-anchor="middle" font-family='"Liberation Sans", sans-serif' stroke="#ff1010" stroke-width="0.3">b</text>
<text x="516.2" y="394" font-size="9.6" font-weight="normal" fill="#ff1010" text-anchor="middle" font-family='"Liberation Sans", sans-serif' stroke="#ff1010" stroke-width="0.3">c</text>
<defs><radialGradient id="gray" cx="50%" cy="50%" r="55%"><stop offset="0" stop-color="#f6f6f6"/><stop offset="0.6" stop-color="#dcdcdc"/><stop offset="1" stop-color="#a8a8a8"/></radialGradient><radialGradient id="green" cx="50%" cy="55%" r="55%"><stop offset="0" stop-color="#eefaee"/><stop offset="0.6" stop-color="#cdeccd"/><stop offset="1" stop-color="#9bd79b"/></radialGradient></defs>
<polygon points="427.2,54.8 438.6,62.5 438.3,75.1 427.2,81.6 415.9,75.1 415.3,62.5" fill="url(#green)" stroke="#5aa85a" stroke-width="0.9" stroke-linejoin="round"/>
<polyline points="420.3,43.8 427.2,54.8 433.4,43.8" fill="none" stroke="#111" stroke-width="1" stroke-linejoin="round" stroke-linecap="round"/>
<line x1="415.46" y1="74.32" x2="403.96" y2="80.82" stroke="#111" stroke-width="0.8"/>
<line x1="416.34" y1="75.88" x2="404.84" y2="82.38" stroke="#111" stroke-width="0.8"/>
<line x1="437.84" y1="75.87" x2="448.84" y2="82.37" stroke="#111" stroke-width="0.8"/>
<line x1="438.76" y1="74.33" x2="449.76" y2="80.83" stroke="#111" stroke-width="0.8"/>
<ellipse cx="415.3" cy="62.5" rx="3.76" ry="3.95" fill="#fff"/>
<text x="415.3" y="62.5" font-size="9.4" fill="#111" text-anchor="middle" dominant-baseline="central" font-family='"Liberation Sans", sans-serif' font-weight="normal" stroke="#111" stroke-width="0.2">O</text>
<ellipse cx="438.6" cy="62.5" rx="3.76" ry="3.95" fill="#fff"/>
<text x="438.6" y="62.5" font-size="9.4" fill="#111" text-anchor="middle" dominant-baseline="central" font-family='"Liberation Sans", sans-serif' font-weight="normal" stroke="#111" stroke-width="0.2">O</text>
<ellipse cx="404.4" cy="81.6" rx="3.76" ry="3.95" fill="#fff"/>
<text x="404.4" y="81.6" font-size="9.4" fill="#111" text-anchor="middle" dominant-baseline="central" font-family='"Liberation Sans", sans-serif' font-weight="normal" stroke="#111" stroke-width="0.2">O</text>
<ellipse cx="449.3" cy="81.6" rx="3.76" ry="3.95" fill="#fff"/>
<text x="449.3" y="81.6" font-size="9.4" fill="#111" text-anchor="middle" dominant-baseline="central" font-family='"Liberation Sans", sans-serif' font-weight="normal" stroke="#111" stroke-width="0.2">O</text>
<circle cx="425.9" cy="75.6" r="2.4" fill="none" stroke="#234823" stroke-width="0.8"/>
<line x1="424.6" y1="75.6" x2="427.2" y2="75.6" stroke="#234823" stroke-width="0.8"/>
<polyline points="427.2,81.6 427.2,94.6" fill="none" stroke="#111" stroke-width="1" stroke-linejoin="round" stroke-linecap="round"/>
<polyline points="415.5,102.3 427.2,94.6 439.2,99.9" fill="none" stroke="#111" stroke-width="1" stroke-linejoin="round" stroke-linecap="round"/>
<polyline points="427.2,94.6 432.9,111.1" fill="none" stroke="#111" stroke-width="1" stroke-linejoin="round" stroke-linecap="round"/>
<polyline points="415.5,102.3 414.3,105.9 413.4,113.7 423.3,123.8 435.9,123 443,112.5 441.2,104.7 439.2,99.9" fill="none" stroke="#111" stroke-width="1" stroke-linejoin="round" stroke-linecap="round"/>
<polyline points="432.9,111.1 423.3,123.8" fill="none" stroke="#111" stroke-width="1" stroke-linejoin="round" stroke-linecap="round"/>
<polyline points="435.9,123 440,131" fill="none" stroke="#111" stroke-width="1" stroke-linejoin="round" stroke-linecap="round"/>
<ellipse cx="415.5" cy="102.3" rx="4.08" ry="4.28" fill="#fff"/>
<text x="415.5" y="102.3" font-size="10.2" fill="#f7b52c" text-anchor="middle" dominant-baseline="central" font-family='"Liberation Sans", sans-serif' font-weight="normal" stroke="#f7b52c" stroke-width="0.2">S</text>
<ellipse cx="439.2" cy="99.9" rx="4.08" ry="4.28" fill="#fff"/>
<text x="439.2" y="99.9" font-size="10.2" fill="#f7b52c" text-anchor="middle" dominant-baseline="central" font-family='"Liberation Sans", sans-serif' font-weight="normal" stroke="#f7b52c" stroke-width="0.2">S</text>
<ellipse cx="432.9" cy="111.1" rx="3.76" ry="3.95" fill="#fff"/>
<text x="432.9" y="111.1" font-size="9.4" fill="#111" text-anchor="middle" dominant-baseline="central" font-family='"Liberation Sans", sans-serif' font-weight="normal" stroke="#111" stroke-width="0.2">O</text>
<rect x="439.06" y="131.08" width="13.07" height="7.04" fill="#fff"/>
<text x="445.6" y="134.6" font-size="8.8" fill="#111" text-anchor="middle" dominant-baseline="central" font-family='"Liberation Sans", sans-serif' font-weight="normal" stroke="#111" stroke-width="0.2">OH</text>
<polyline points="739.9,80.9 748.3,75.5 757.8,80" fill="none" stroke="#111" stroke-width="1" stroke-linejoin="round" stroke-linecap="round"/>
<polyline points="722.5,93.9 714,99.9 706,96.8" fill="none" stroke="#111" stroke-width="1" stroke-linejoin="round" stroke-linecap="round"/>
<polygon points="730.4,77.2 739.9,80.9 741.7,92.4 732.4,97.9 722.5,93.9 721,83.9" fill="url(#gray)" stroke="#111" stroke-width="1" stroke-linejoin="round"/>
<line x1="738.51" y1="83" x2="739.73" y2="90.82" stroke="#111" stroke-width="0.9"/>
<line x1="731.45" y1="95.68" x2="724.72" y2="92.96" stroke="#111" stroke-width="0.9"/>
<line x1="723.49" y1="84.21" x2="729.88" y2="79.66" stroke="#111" stroke-width="0.9"/>
<polygon points="757.8,80 767.6,74.2 775.7,82 771.3,90.4 760.3,90.2" fill="none" stroke="#111" stroke-width="1" stroke-linejoin="round"/>
<line x1="769.68" y1="88.87" x2="761.98" y2="88.73" stroke="#111" stroke-width="0.9"/>
<line x1="768.99" y1="77.62" x2="772.23" y2="80.74" stroke="#111" stroke-width="0.9"/>
<ellipse cx="757.8" cy="80" rx="2.88" ry="3.02" fill="#fff"/>
<text x="757.8" y="80" font-size="7.2" fill="#111" text-anchor="middle" dominant-baseline="central" font-family='"Liberation Serif", serif' font-weight="normal" stroke="#111" stroke-width="0.2">N</text>
<ellipse cx="767.6" cy="74.2" rx="2.88" ry="3.02" fill="#fff"/>
<text x="767.6" y="74.2" font-size="7.2" fill="#111" text-anchor="middle" dominant-baseline="central" font-family='"Liberation Serif", serif' font-weight="normal" stroke="#111" stroke-width="0.2">N</text>
<ellipse cx="775.7" cy="82" rx="2.88" ry="3.02" fill="#fff"/>
<text x="775.7" y="82" font-size="7.2" fill="#111" text-anchor="middle" dominant-baseline="central" font-family='"Liberation Serif", serif' font-weight="normal" stroke="#111" stroke-width="0.2">N</text>
<polyline points="771.3,90.4 777,100.1 787.3,100.1 793.3,110.3 802.8,110.3 807.6,115.7" fill="none" stroke="#111" stroke-width="1" stroke-linejoin="round" stroke-linecap="round"/>
<rect x="804.39" y="117.54" width="9.62" height="5.12" fill="#fff"/>
<text x="809.2" y="120.1" font-size="6.4" fill="#f7b52c" text-anchor="middle" dominant-baseline="central" font-family='"Liberation Sans", sans-serif' font-weight="normal" stroke="#f7b52c" stroke-width="0.2">SH</text>
<rect x="697.76" y="94.1" width="10.48" height="5.6" fill="#fff"/>
<text x="703" y="96.9" font-size="7" fill="#111" text-anchor="middle" dominant-baseline="central" font-family='"Liberation Serif", serif' font-weight="normal" stroke="#111" stroke-width="0.2">N<tspan font-size="4.5" dy="1.5">3</tspan></text>
<text x="747.2" y="115.7" font-size="16.3" font-weight="bold" fill="#000" text-anchor="middle" font-family='"Liberation Serif", serif'>35</text>
<text x="759.8" y="126.4" font-size="7.3" font-weight="normal" fill="#111" text-anchor="middle" font-family='"Liberation Sans", sans-serif' stroke="#111" stroke-width="0.22">Exact Mass: 302.1314</text>
<polyline points="831.7,105.5 836.9,103.3 846.4,108.8 856,103.6 865.5,110 874.5,105.5" fill="none" stroke="#111" stroke-width="1.05" stroke-linejoin="round" stroke-linecap="round"/>
<rect x="819.4" y="106.02" width="12.21" height="6.56" fill="#fff"/>
<text x="825.5" y="109.3" font-size="8.2" fill="#f7b52c" text-anchor="middle" dominant-baseline="central" font-family='"Liberation Sans", sans-serif' font-weight="normal" stroke="#f7b52c" stroke-width="0.2">HS</text>
<polyline points="892.1,103.1 901.6,105.4 909.6,98.8" fill="none" stroke="#111" stroke-width="1.05" stroke-linejoin="round" stroke-linecap="round"/>
<polyline points="936.5,89.8 945.5,84.9 955.6,86.6" fill="none" stroke="#111" stroke-width="1.05" stroke-linejoin="round" stroke-linecap="round"/>
<polygon points="909.6,98.8 913.6,85.8 925.5,81.4 936.5,89.8 933.5,102.8 921.5,107.8" fill="url(#gray)" stroke="#111" stroke-width="1.05" stroke-linejoin="round"/>
<line x1="916.09" y1="86.69" x2="924.19" y2="83.7" stroke="#111" stroke-width="0.95"/>
<line x1="934.36" y1="91.5" x2="932.32" y2="100.34" stroke="#111" stroke-width="0.95"/>
<line x1="920.62" y1="105" x2="912.53" y2="98.88" stroke="#111" stroke-width="0.95"/>
<polygon points="892.1,103.1 887.4,93.6 876.9,95 874.5,105.5 884,110.2" fill="none" stroke="#111" stroke-width="1.05" stroke-linejoin="round"/>
<line x1="876.59" y1="104.86" x2="883.24" y2="108.15" stroke="#111" stroke-width="0.95"/>
<line x1="884.45" y1="95.51" x2="880.25" y2="96.07" stroke="#111" stroke-width="0.95"/>
<ellipse cx="892.1" cy="103.1" rx="3.04" ry="3.19" fill="#fff"/>
<text x="892.1" y="103.1" font-size="7.6" fill="#111" text-anchor="middle" dominant-baseline="central" font-family='"Liberation Sans", sans-serif' font-weight="normal" stroke="#111" stroke-width="0.2">N</text>
<ellipse cx="887.4" cy="93.6" rx="3.04" ry="3.19" fill="#fff"/>
<text x="887.4" y="93.6" font-size="7.6" fill="#111" text-anchor="middle" dominant-baseline="central" font-family='"Liberation Sans", sans-serif' font-weight="normal" stroke="#111" stroke-width="0.2">N</text>
<ellipse cx="876.9" cy="95" rx="3.04" ry="3.19" fill="#fff"/>
<text x="876.9" y="95" font-size="7.6" fill="#111" text-anchor="middle" dominant-baseline="central" font-family='"Liberation Sans", sans-serif' font-weight="normal" stroke="#111" stroke-width="0.2">N</text>
<polygon points="955.6,86.6 963.2,78.6 972.6,84.8 970.9,94 960.4,94.8" fill="none" stroke="#111" stroke-width="1.05" stroke-linejoin="round"/>
<line x1="969.21" y1="92.62" x2="961.86" y2="93.18" stroke="#111" stroke-width="0.95"/>
<line x1="965.19" y1="81.71" x2="968.95" y2="84.19" stroke="#111" stroke-width="0.95"/>
<ellipse cx="955.6" cy="86.6" rx="3.04" ry="3.19" fill="#fff"/>
<text x="955.6" y="86.6" font-size="7.6" fill="#111" text-anchor="middle" dominant-baseline="central" font-family='"Liberation Sans", sans-serif' font-weight="normal" stroke="#111" stroke-width="0.2">N</text>
<ellipse cx="963.2" cy="78.6" rx="3.04" ry="3.19" fill="#fff"/>
<text x="963.2" y="78.6" font-size="7.6" fill="#111" text-anchor="middle" dominant-baseline="central" font-family='"Liberation Sans", sans-serif' font-weight="normal" stroke="#111" stroke-width="0.2">N</text>
<ellipse cx="972.6" cy="84.8" rx="3.04" ry="3.19" fill="#fff"/>
<text x="972.6" y="84.8" font-size="7.6" fill="#111" text-anchor="middle" dominant-baseline="central" font-family='"Liberation Sans", sans-serif' font-weight="normal" stroke="#111" stroke-width="0.2">N</text>
<polyline points="970.9,94 979.1,102.5 988.7,100.6 997.4,107.6 1007,105.7 1011.8,110.6" fill="none" stroke="#111" stroke-width="1.05" stroke-linejoin="round" stroke-linecap="round"/>
<rect x="1011.4" y="111.72" width="12.21" height="6.56" fill="#fff"/>
<text x="1017.5" y="115" font-size="8.2" fill="#f7b52c" text-anchor="middle" dominant-baseline="central" font-family='"Liberation Sans", sans-serif' font-weight="normal" stroke="#f7b52c" stroke-width="0.2">SH</text>
<text x="943.5" y="122" font-size="16.3" font-weight="bold" fill="#000" text-anchor="middle" font-family='"Liberation Serif", serif'>33</text>
<text x="934.3" y="134.9" font-size="9.45" font-weight="normal" fill="#111" text-anchor="middle" font-family='"Liberation Sans", sans-serif' stroke="#111" stroke-width="0.22">Exact Mass: 416.1817</text>
<polyline points="53.3,280.2 66.2,273.6" fill="none" stroke="#111" stroke-width="1.25" stroke-linejoin="round" stroke-linecap="round"/>
<line x1="59.5" y1="269.3" x2="59.5" y2="282.6" stroke="#111" stroke-width="1.25"/>
<polyline points="66.2,273.6 77.1,279.6 89.5,273.6 98.6,278.8" fill="none" stroke="#111" stroke-width="1.25" stroke-linejoin="round" stroke-linecap="round"/>
<line x1="91.9" y1="269.3" x2="91.9" y2="282.6" stroke="#111" stroke-width="1.25"/>
<polyline points="98.6,278.8 109.5,273.3 120.5,279.3 130.8,273.4" fill="none" stroke="#111" stroke-width="1.25" stroke-linejoin="round" stroke-linecap="round"/>
<ellipse cx="66.2" cy="273.6" rx="3.68" ry="3.86" fill="#fff"/>
<text x="66.2" y="273.6" font-size="9.2" fill="#111" text-anchor="middle" dominant-baseline="central" font-family='"Liberation Sans", sans-serif' font-weight="normal" stroke="#111" stroke-width="0.2">O</text>
<ellipse cx="98.6" cy="278.8" rx="3.68" ry="3.86" fill="#fff"/>
<text x="98.6" y="278.8" font-size="9.2" fill="#111" text-anchor="middle" dominant-baseline="central" font-family='"Liberation Sans", sans-serif' font-weight="normal" stroke="#111" stroke-width="0.2">O</text>
<text x="93.8" y="287.2" font-size="6.5" font-weight="bold" fill="#111" text-anchor="middle" font-family='"Liberation Sans", sans-serif'>n</text>
<polyline points="150.5,276.5 161.7,282.3 172,276.1 182.8,282.3 193.5,276.1 200.7,280.5" fill="none" stroke="#111" stroke-width="1.25" stroke-linejoin="round" stroke-linecap="round"/>
<polygon points="130.8,273.4 136.2,262.2 148.7,264 150.5,276.5 139.3,281.9" fill="none" stroke="#111" stroke-width="1.25" stroke-linejoin="round"/>
<line x1="148.17" y1="275.96" x2="140.33" y2="279.74" stroke="#111" stroke-width="1.12"/>
<line x1="139.74" y1="264.22" x2="144.74" y2="264.94" stroke="#111" stroke-width="1.12"/>
<ellipse cx="130.8" cy="273.4" rx="3.2" ry="3.36" fill="#fff"/>
<text x="130.8" y="273.4" font-size="8" fill="#111" text-anchor="middle" dominant-baseline="central" font-family='"Liberation Sans", sans-serif' font-weight="bold" stroke="#111" stroke-width="0.2">N</text>
<ellipse cx="136.2" cy="262.2" rx="3.2" ry="3.36" fill="#fff"/>
<text x="136.2" y="262.2" font-size="8" fill="#111" text-anchor="middle" dominant-baseline="central" font-family='"Liberation Sans", sans-serif' font-weight="bold" stroke="#111" stroke-width="0.2">N</text>
<ellipse cx="148.7" cy="264" rx="3.2" ry="3.36" fill="#fff"/>
<text x="148.7" y="264" font-size="8" fill="#111" text-anchor="middle" dominant-baseline="central" font-family='"Liberation Sans", sans-serif' font-weight="bold" stroke="#111" stroke-width="0.2">N</text>
<rect x="201.61" y="279.56" width="12.78" height="6.88" fill="#fff"/>
<text x="208" y="283" font-size="8.6" fill="#f7b52c" text-anchor="middle" dominant-baseline="central" font-family='"Liberation Sans", sans-serif' font-weight="normal" stroke="#f7b52c" stroke-width="0.2">SH</text>
<text x="47.6" y="287.7" font-size="9.6" font-weight="normal" fill="#ff1010" text-anchor="middle" font-family='"Liberation Sans", sans-serif' stroke="#ff1010" stroke-width="0.3">i</text>
<text x="85.7" y="268.7" font-size="9.6" font-weight="normal" fill="#ff1010" text-anchor="middle" font-family='"Liberation Sans", sans-serif' stroke="#ff1010" stroke-width="0.3">h</text>
<text x="74.3" y="292.5" font-size="9.6" font-weight="normal" fill="#ff1010" text-anchor="middle" font-family='"Liberation Sans", sans-serif' stroke="#ff1010" stroke-width="0.3">h</text>
<text x="108.6" y="268.7" font-size="9.6" font-weight="normal" fill="#ff1010" text-anchor="middle" font-family='"Liberation Sans", sans-serif' stroke="#ff1010" stroke-width="0.3">g</text>
<text x="119.5" y="291.5" font-size="9.6" font-weight="normal" fill="#ff1010" text-anchor="middle" font-family='"Liberation Sans", sans-serif' stroke="#ff1010" stroke-width="0.3">f</text>
<text x="139.8" y="294.5" font-size="9.6" font-weight="normal" fill="#ff1010" text-anchor="middle" font-family='"Liberation Sans", sans-serif' stroke="#ff1010" stroke-width="0.3">e</text>
<text x="158.6" y="295.8" font-size="9.6" font-weight="normal" fill="#ff1010" text-anchor="middle" font-family='"Liberation Sans", sans-serif' stroke="#ff1010" stroke-width="0.3">d</text>
<text x="170.3" y="273.4" font-size="9.6" font-weight="normal" fill="#ff1010" text-anchor="middle" font-family='"Liberation Sans", sans-serif' stroke="#ff1010" stroke-width="0.3">c</text>
<text x="182.8" y="295.4" font-size="9.6" font-weight="normal" fill="#ff1010" text-anchor="middle" font-family='"Liberation Sans", sans-serif' stroke="#ff1010" stroke-width="0.3">b</text>
<text x="191.3" y="274.3" font-size="9.6" font-weight="normal" fill="#ff1010" text-anchor="middle" font-family='"Liberation Sans", sans-serif' stroke="#ff1010" stroke-width="0.3">a</text>
<text x="98.3" y="310" font-size="16.3" font-weight="bold" fill="#000" text-anchor="middle" font-family='"Liberation Serif", serif'>32</text>
<polyline points="297,270.4 303.7,266.8 315.3,273 327,266.8 337.8,273 346.7,267.7" fill="none" stroke="#111" stroke-width="1.2" stroke-linejoin="round" stroke-linecap="round"/>
<rect x="282.06" y="269.08" width="13.07" height="7.04" fill="#fff"/>
<text x="288.6" y="272.6" font-size="8.8" fill="#f7b52c" text-anchor="middle" dominant-baseline="central" font-family='"Liberation Sans", sans-serif' font-weight="normal" stroke="#f7b52c" stroke-width="0.2">HS</text>
<polyline points="367.4,261.9 379,256 389.6,262.1 399.7,256.5 411.7,262.1 423,255.5 435.6,262.1 448.1,261.9 454.7,273.5" fill="none" stroke="#111" stroke-width="1.2" stroke-linejoin="round" stroke-linecap="round"/>
<polygon points="367.4,261.9 360.5,251.9 348.5,254.2 346.7,267.7 358.7,270.4" fill="none" stroke="#111" stroke-width="1.2" stroke-linejoin="round"/>
<line x1="348.83" y1="266.64" x2="357.23" y2="268.53" stroke="#111" stroke-width="1.08"/>
<line x1="357.18" y1="254.06" x2="352.38" y2="254.98" stroke="#111" stroke-width="1.08"/>
<ellipse cx="367.4" cy="261.9" rx="3.2" ry="3.36" fill="#fff"/>
<text x="367.4" y="261.9" font-size="8" fill="#111" text-anchor="middle" dominant-baseline="central" font-family='"Liberation Sans", sans-serif' font-weight="bold" stroke="#111" stroke-width="0.2">N</text>
<ellipse cx="360.5" cy="251.9" rx="3.2" ry="3.36" fill="#fff"/>
<text x="360.5" y="251.9" font-size="8" fill="#111" text-anchor="middle" dominant-baseline="central" font-family='"Liberation Sans", sans-serif' font-weight="bold" stroke="#111" stroke-width="0.2">N</text>
<ellipse cx="348.5" cy="254.2" rx="3.2" ry="3.36" fill="#fff"/>
<text x="348.5" y="254.2" font-size="8" fill="#111" text-anchor="middle" dominant-baseline="central" font-family='"Liberation Sans", sans-serif' font-weight="bold" stroke="#111" stroke-width="0.2">N</text>
<line x1="394.9" y1="252" x2="394.9" y2="265" stroke="#111" stroke-width="1.2"/>
<line x1="427.2" y1="252" x2="427.2" y2="265" stroke="#111" stroke-width="1.2"/>
<ellipse cx="399.7" cy="256.5" rx="3.6" ry="3.78" fill="#fff"/>
<text x="399.7" y="256.5" font-size="9" fill="#111" text-anchor="middle" dominant-baseline="central" font-family='"Liberation Sans", sans-serif' font-weight="normal" stroke="#111" stroke-width="0.2">O</text>
<ellipse cx="435.6" cy="262.1" rx="3.6" ry="3.78" fill="#fff"/>
<text x="435.6" y="262.1" font-size="9" fill="#111" text-anchor="middle" dominant-baseline="central" font-family='"Liberation Sans", sans-serif' font-weight="normal" stroke="#111" stroke-width="0.2">O</text>
<text x="429.2" y="270.6" font-size="6" font-weight="bold" fill="#000" text-anchor="middle" font-family='"Liberation Sans", sans-serif'>n</text>
<polyline points="454.7,273.5 461.2,262.1 473.5,262" fill="none" stroke="#111" stroke-width="1.2" stroke-linejoin="round" stroke-linecap="round"/>
<polyline points="454.7,273.5 448.7,284.2 435.3,284.7" fill="none" stroke="#111" stroke-width="1.2" stroke-linejoin="round" stroke-linecap="round"/>
<polyline points="454.7,273.5 461.8,284.2 473.5,284.1" fill="none" stroke="#111" stroke-width="1.2" stroke-linejoin="round" stroke-linecap="round"/>
<polyline points="473.5,262 483.7,253 495.9,256.4 504,247.6 515.5,250.3 526.3,241.5 537.8,245.3" fill="none" stroke="#111" stroke-width="1.2" stroke-linejoin="round" stroke-linecap="round"/>
<line x1="480.3" y1="248.2" x2="480.3" y2="259.7" stroke="#111" stroke-width="1.2"/>
<line x1="511.4" y1="242.2" x2="511.4" y2="254.3" stroke="#111" stroke-width="1.2"/>
<ellipse cx="473.5" cy="262" rx="3.6" ry="3.78" fill="#fff"/>
<text x="473.5" y="262" font-size="9" fill="#111" text-anchor="middle" dominant-baseline="central" font-family='"Liberation Sans", sans-serif' font-weight="normal" stroke="#111" stroke-width="0.2">O</text>
<ellipse cx="504" cy="247.6" rx="3.6" ry="3.78" fill="#fff"/>
<text x="504" y="247.6" font-size="9" fill="#111" text-anchor="middle" dominant-baseline="central" font-family='"Liberation Sans", sans-serif' font-weight="normal" stroke="#111" stroke-width="0.2">O</text>
<text x="514.1" y="259.8" font-size="6" font-weight="bold" fill="#000" text-anchor="middle" font-family='"Liberation Sans", sans-serif'>n</text>
<polyline points="557.5,247.3 570.8,250.9 579.7,242.9 591.7,245.9 601.7,236.9 608.6,238.9" fill="none" stroke="#111" stroke-width="1.2" stroke-linejoin="round" stroke-linecap="round"/>
<polygon points="537.6,245.3 542.9,234.8 555.6,236.4 557.5,247.3 546.9,253.1" fill="none" stroke="#111" stroke-width="1.2" stroke-linejoin="round"/>
<line x1="555.19" y1="246.85" x2="547.77" y2="250.91" stroke="#111" stroke-width="1.08"/>
<line x1="546.52" y1="236.77" x2="551.6" y2="237.41" stroke="#111" stroke-width="1.08"/>
<ellipse cx="537.6" cy="245.3" rx="3.2" ry="3.36" fill="#fff"/>
<text x="537.6" y="245.3" font-size="8" fill="#111" text-anchor="middle" dominant-baseline="central" font-family='"Liberation Sans", sans-serif' font-weight="bold" stroke="#111" stroke-width="0.2">N</text>
<ellipse cx="542.9" cy="234.8" rx="3.2" ry="3.36" fill="#fff"/>
<text x="542.9" y="234.8" font-size="8" fill="#111" text-anchor="middle" dominant-baseline="central" font-family='"Liberation Sans", sans-serif' font-weight="bold" stroke="#111" stroke-width="0.2">N</text>
<ellipse cx="555.6" cy="236.4" rx="3.2" ry="3.36" fill="#fff"/>
<text x="555.6" y="236.4" font-size="8" fill="#111" text-anchor="middle" dominant-baseline="central" font-family='"Liberation Sans", sans-serif' font-weight="bold" stroke="#111" stroke-width="0.2">N</text>
<rect x="610.66" y="236.88" width="13.07" height="7.04" fill="#fff"/>
<text x="617.2" y="240.4" font-size="8.8" fill="#f7b52c" text-anchor="middle" dominant-baseline="central" font-family='"Liberation Sans", sans-serif' font-weight="normal" stroke="#f7b52c" stroke-width="0.2">SH</text>
<polyline points="473.5,284.1 483.7,289.5 495.2,283.4 503.3,288.9 506,290.2 516.9,287.5 522.3,284.1 529.7,291.6 539.7,286.3" fill="none" stroke="#111" stroke-width="1.2" stroke-linejoin="round" stroke-linecap="round"/>
<line x1="481" y1="280.7" x2="481" y2="292.9" stroke="#111" stroke-width="1.2"/>
<line x1="512.1" y1="281.4" x2="512.1" y2="293.6" stroke="#111" stroke-width="1.2"/>
<ellipse cx="473.5" cy="284.1" rx="3.6" ry="3.78" fill="#fff"/>
<text x="473.5" y="284.1" font-size="9" fill="#111" text-anchor="middle" dominant-baseline="central" font-family='"Liberation Sans", sans-serif' font-weight="normal" stroke="#111" stroke-width="0.2">O</text>
<ellipse cx="506" cy="290.2" rx="3.6" ry="3.78" fill="#fff"/>
<text x="506" y="290.2" font-size="9" fill="#111" text-anchor="middle" dominant-baseline="central" font-family='"Liberation Sans", sans-serif' font-weight="normal" stroke="#111" stroke-width="0.2">O</text>
<text x="514.8" y="297.2" font-size="6" font-weight="bold" fill="#000" text-anchor="middle" font-family='"Liberation Sans", sans-serif'>n</text>
<polyline points="560.4,282.5 570.4,276.1 580.7,282.9 592.1,276.4 603.2,283.7" fill="none" stroke="#111" stroke-width="1.2" stroke-linejoin="round" stroke-linecap="round"/>
<polygon points="539.7,286.3 546.9,297 558.6,294.6 560.4,282.5 549.3,277" fill="none" stroke="#111" stroke-width="1.2" stroke-linejoin="round"/>
<line x1="558.07" y1="283.02" x2="550.3" y2="279.17" stroke="#111" stroke-width="1.08"/>
<line x1="550.11" y1="294.81" x2="554.79" y2="293.85" stroke="#111" stroke-width="1.08"/>
<ellipse cx="539.7" cy="286.3" rx="3.2" ry="3.36" fill="#fff"/>
<text x="539.7" y="286.3" font-size="8" fill="#111" text-anchor="middle" dominant-baseline="central" font-family='"Liberation Sans", sans-serif' font-weight="bold" stroke="#111" stroke-width="0.2">N</text>
<ellipse cx="546.9" cy="297" rx="3.2" ry="3.36" fill="#fff"/>
<text x="546.9" y="297" font-size="8" fill="#111" text-anchor="middle" dominant-baseline="central" font-family='"Liberation Sans", sans-serif' font-weight="bold" stroke="#111" stroke-width="0.2">N</text>
<ellipse cx="558.6" cy="294.6" rx="3.2" ry="3.36" fill="#fff"/>
<text x="558.6" y="294.6" font-size="8" fill="#111" text-anchor="middle" dominant-baseline="central" font-family='"Liberation Sans", sans-serif' font-weight="bold" stroke="#111" stroke-width="0.2">N</text>
<rect x="605.66" y="277.38" width="13.07" height="7.04" fill="#fff"/>
<text x="612.2" y="280.9" font-size="8.8" fill="#f7b52c" text-anchor="middle" dominant-baseline="central" font-family='"Liberation Sans", sans-serif' font-weight="normal" stroke="#f7b52c" stroke-width="0.2">SH</text>
<polyline points="435.3,284.7 428.5,290 422.8,293 413.3,289.9 407,295.7 403.4,298.8 397.1,295.7 391.9,295.7 383,304 370.4,300.9" fill="none" stroke="#111" stroke-width="1.2" stroke-linejoin="round" stroke-linecap="round"/>
<line x1="428.5" y1="282.6" x2="428.5" y2="294.1" stroke="#111" stroke-width="1.2"/>
<line x1="397.6" y1="291" x2="397.6" y2="303.5" stroke="#111" stroke-width="1.2"/>
<ellipse cx="435.3" cy="284.7" rx="3.6" ry="3.78" fill="#fff"/>
<text x="435.3" y="284.7" font-size="9" fill="#111" text-anchor="middle" dominant-baseline="central" font-family='"Liberation Sans", sans-serif' font-weight="normal" stroke="#111" stroke-width="0.2">O</text>
<ellipse cx="403.4" cy="298.8" rx="3.6" ry="3.78" fill="#fff"/>
<text x="403.4" y="298.8" font-size="9" fill="#111" text-anchor="middle" dominant-baseline="central" font-family='"Liberation Sans", sans-serif' font-weight="normal" stroke="#111" stroke-width="0.2">O</text>
<text x="430.8" y="297.6" font-size="6" font-weight="bold" fill="#000" text-anchor="middle" font-family='"Liberation Sans", sans-serif'>n</text>
<polyline points="351.8,310.2 342.8,319.2 330.7,316.5 321.8,325 309.2,321.9 303.4,326.8" fill="none" stroke="#111" stroke-width="1.2" stroke-linejoin="round" stroke-linecap="round"/>
<polygon points="370.4,300.9 361.5,292 350,297.8 351.8,310.2 365.1,311.9" fill="none" stroke="#111" stroke-width="1.2" stroke-linejoin="round"/>
<line x1="353.99" y1="308.97" x2="363.3" y2="310.16" stroke="#111" stroke-width="1.08"/>
<line x1="358.73" y1="295.08" x2="354.13" y2="297.4" stroke="#111" stroke-width="1.08"/>
<ellipse cx="370.4" cy="300.9" rx="3.2" ry="3.36" fill="#fff"/>
<text x="370.4" y="300.9" font-size="8" fill="#111" text-anchor="middle" dominant-baseline="central" font-family='"Liberation Sans", sans-serif' font-weight="bold" stroke="#111" stroke-width="0.2">N</text>
<ellipse cx="361.5" cy="292" rx="3.2" ry="3.36" fill="#fff"/>
<text x="361.5" y="292" font-size="8" fill="#111" text-anchor="middle" dominant-baseline="central" font-family='"Liberation Sans", sans-serif' font-weight="bold" stroke="#111" stroke-width="0.2">N</text>
<ellipse cx="350" cy="297.8" rx="3.2" ry="3.36" fill="#fff"/>
<text x="350" y="297.8" font-size="8" fill="#111" text-anchor="middle" dominant-baseline="central" font-family='"Liberation Sans", sans-serif' font-weight="bold" stroke="#111" stroke-width="0.2">N</text>
<rect x="290.86" y="326.68" width="13.07" height="7.04" fill="#fff"/>
<text x="297.4" y="330.2" font-size="8.8" fill="#f7b52c" text-anchor="middle" dominant-baseline="central" font-family='"Liberation Sans", sans-serif' font-weight="normal" stroke="#f7b52c" stroke-width="0.2">HS</text>
<text x="304.2" y="262.8" font-size="9.6" font-weight="normal" fill="#ff1010" text-anchor="middle" font-family='"Liberation Sans", sans-serif' stroke="#ff1010" stroke-width="0.3">a</text>
<text x="325.7" y="262.8" font-size="9.6" font-weight="normal" fill="#ff1010" text-anchor="middle" font-family='"Liberation Sans", sans-serif' stroke="#ff1010" stroke-width="0.3">c</text>
<text x="314.4" y="284.3" font-size="9.6" font-weight="normal" fill="#ff1010" text-anchor="middle" font-family='"Liberation Sans", sans-serif' stroke="#ff1010" stroke-width="0.3">b</text>
<text x="336.9" y="284.3" font-size="9.6" font-weight="normal" fill="#ff1010" text-anchor="middle" font-family='"Liberation Sans", sans-serif' stroke="#ff1010" stroke-width="0.3">d</text>
<text x="358.3" y="281.6" font-size="9.6" font-weight="normal" fill="#ff1010" text-anchor="middle" font-family='"Liberation Sans", sans-serif' stroke="#ff1010" stroke-width="0.3">e</text>
<text x="377.2" y="253.8" font-size="9.6" font-weight="normal" fill="#ff1010" text-anchor="middle" font-family='"Liberation Sans", sans-serif' stroke="#ff1010" stroke-width="0.3">f</text>
<text x="388.9" y="273" font-size="9.6" font-weight="normal" fill="#ff1010" text-anchor="middle" font-family='"Liberation Sans", sans-serif' stroke="#ff1010" stroke-width="0.3">g</text>
<text x="420" y="252.8" font-size="9.6" font-weight="normal" fill="#ff1010" text-anchor="middle" font-family='"Liberation Sans", sans-serif' stroke="#ff1010" stroke-width="0.3">h</text>
<text x="412.3" y="271.9" font-size="9.6" font-weight="normal" fill="#ff1010" text-anchor="middle" font-family='"Liberation Sans", sans-serif' stroke="#ff1010" stroke-width="0.3">h</text>
<text x="448.7" y="256.9" font-size="9.6" font-weight="normal" fill="#ff1010" text-anchor="middle" font-family='"Liberation Sans", sans-serif' stroke="#ff1010" stroke-width="0.3">i</text>
<text x="432.6" y="324.5" font-size="16.3" font-weight="bold" fill="#000" text-anchor="middle" font-family='"Liberation Serif", serif'>29</text>
<polyline points="789.4,290.3 779.6,286.2 770.1,293" fill="none" stroke="#111" stroke-width="1" stroke-linejoin="round" stroke-linecap="round"/>
<polyline points="808,289.1 816.3,282.5 825.3,287.3" fill="none" stroke="#111" stroke-width="1" stroke-linejoin="round" stroke-linecap="round"/>
<polyline points="800.2,304.6 800.9,316.1 793.1,323.7" fill="none" stroke="#111" stroke-width="1" stroke-linejoin="round" stroke-linecap="round"/>
<polygon points="797.8,284.1 808,289.1 808.5,299.9 800.2,304.6 790,299.9 789.4,290.3" fill="url(#gray)" stroke="#111" stroke-width="1" stroke-linejoin="round"/>
<line x1="798.68" y1="286.43" x2="805.62" y2="289.83" stroke="#111" stroke-width="0.9"/>
<line x1="806.33" y1="299.17" x2="800.69" y2="302.37" stroke="#111" stroke-width="0.9"/>
<line x1="791.6" y1="298.26" x2="791.19" y2="291.73" stroke="#111" stroke-width="0.9"/>
<polyline points="753.9,298.2 742.9,298.2 737.7,289 726.3,288.6 720.6,279.4 714.5,279.4" fill="none" stroke="#111" stroke-width="1" stroke-linejoin="round" stroke-linecap="round"/>
<polygon points="770.1,293 770.1,303.5 760.5,306.6 753.9,298.2 760.5,289.5" fill="none" stroke="#111" stroke-width="1" stroke-linejoin="round"/>
<line x1="756.09" y1="297.8" x2="760.71" y2="291.71" stroke="#111" stroke-width="0.9"/>
<line x1="766.76" y1="303" x2="762.92" y2="304.24" stroke="#111" stroke-width="0.9"/>
<ellipse cx="770.1" cy="293" rx="2.64" ry="2.77" fill="#fff"/>
<text x="770.1" y="293" font-size="6.6" fill="#111" text-anchor="middle" dominant-baseline="central" font-family='"Liberation Sans", sans-serif' font-weight="normal" stroke="#111" stroke-width="0.2">N</text>
<ellipse cx="770.1" cy="303.5" rx="2.64" ry="2.77" fill="#fff"/>
<text x="770.1" y="303.5" font-size="6.6" fill="#111" text-anchor="middle" dominant-baseline="central" font-family='"Liberation Sans", sans-serif' font-weight="normal" stroke="#111" stroke-width="0.2">N</text>
<ellipse cx="760.5" cy="306.6" rx="2.64" ry="2.77" fill="#fff"/>
<text x="760.5" y="306.6" font-size="6.6" fill="#111" text-anchor="middle" dominant-baseline="central" font-family='"Liberation Sans", sans-serif' font-weight="normal" stroke="#111" stroke-width="0.2">N</text>
<rect x="703.5" y="275.68" width="10.19" height="5.44" fill="#fff"/>
<text x="708.6" y="278.4" font-size="6.8" fill="#f7b52c" text-anchor="middle" dominant-baseline="central" font-family='"Liberation Sans", sans-serif' font-weight="normal" stroke="#f7b52c" stroke-width="0.2">HS</text>
<polyline points="839.2,298.5 846.1,307.6 856.5,308.5 860.3,318 855.6,327.4 859.4,333.1" fill="none" stroke="#111" stroke-width="1" stroke-linejoin="round" stroke-linecap="round"/>
<polygon points="825.3,287.3 835.4,281.4 843.8,289.1 839.2,298.5 828.3,296.9" fill="none" stroke="#111" stroke-width="1" stroke-linejoin="round"/>
<line x1="837.78" y1="296.78" x2="830.15" y2="295.66" stroke="#111" stroke-width="0.9"/>
<line x1="836.91" y1="284.82" x2="840.27" y2="287.9" stroke="#111" stroke-width="0.9"/>
<ellipse cx="825.3" cy="287.3" rx="2.64" ry="2.77" fill="#fff"/>
<text x="825.3" y="287.3" font-size="6.6" fill="#111" text-anchor="middle" dominant-baseline="central" font-family='"Liberation Sans", sans-serif' font-weight="normal" stroke="#111" stroke-width="0.2">N</text>
<ellipse cx="835.4" cy="281.4" rx="2.64" ry="2.77" fill="#fff"/>
<text x="835.4" y="281.4" font-size="6.6" fill="#111" text-anchor="middle" dominant-baseline="central" font-family='"Liberation Sans", sans-serif' font-weight="normal" stroke="#111" stroke-width="0.2">N</text>
<ellipse cx="843.8" cy="289.1" rx="2.64" ry="2.77" fill="#fff"/>
<text x="843.8" y="289.1" font-size="6.6" fill="#111" text-anchor="middle" dominant-baseline="central" font-family='"Liberation Sans", sans-serif' font-weight="normal" stroke="#111" stroke-width="0.2">N</text>
<rect x="860.3" y="336.18" width="10.19" height="5.44" fill="#fff"/>
<text x="865.4" y="338.9" font-size="6.8" fill="#f7b52c" text-anchor="middle" dominant-baseline="central" font-family='"Liberation Sans", sans-serif' font-weight="normal" stroke="#f7b52c" stroke-width="0.2">SH</text>
<polyline points="781.8,336.9 778.9,347.3 783.7,356.8 783.7,365.3 790.3,372.9 790.3,378.6" fill="none" stroke="#111" stroke-width="1" stroke-linejoin="round" stroke-linecap="round"/>
<polygon points="793.1,323.7 782.7,318.9 776.1,329.3 781.8,336.9 792.2,334.1" fill="none" stroke="#111" stroke-width="1" stroke-linejoin="round"/>
<line x1="782.97" y1="335.03" x2="790.25" y2="333.07" stroke="#111" stroke-width="0.9"/>
<line x1="781.99" y1="322.82" x2="779.35" y2="326.98" stroke="#111" stroke-width="0.9"/>
<ellipse cx="793.1" cy="323.7" rx="2.64" ry="2.77" fill="#fff"/>
<text x="793.1" y="323.7" font-size="6.6" fill="#111" text-anchor="middle" dominant-baseline="central" font-family='"Liberation Sans", sans-serif' font-weight="normal" stroke="#111" stroke-width="0.2">N</text>
<ellipse cx="782.7" cy="318.9" rx="2.64" ry="2.77" fill="#fff"/>
<text x="782.7" y="318.9" font-size="6.6" fill="#111" text-anchor="middle" dominant-baseline="central" font-family='"Liberation Sans", sans-serif' font-weight="normal" stroke="#111" stroke-width="0.2">N</text>
<ellipse cx="776.1" cy="329.3" rx="2.64" ry="2.77" fill="#fff"/>
<text x="776.1" y="329.3" font-size="6.6" fill="#111" text-anchor="middle" dominant-baseline="central" font-family='"Liberation Sans", sans-serif' font-weight="normal" stroke="#111" stroke-width="0.2">N</text>
<rect x="780.5" y="381.68" width="10.19" height="5.44" fill="#fff"/>
<text x="785.6" y="384.4" font-size="6.8" fill="#f7b52c" text-anchor="middle" dominant-baseline="central" font-family='"Liberation Sans", sans-serif' font-weight="normal" stroke="#f7b52c" stroke-width="0.2">HS</text>
<text x="819.6" y="349.2" font-size="16.3" font-weight="bold" fill="#000" text-anchor="middle" font-family='"Liberation Serif", serif'>34</text>
</svg>
</body></html>
